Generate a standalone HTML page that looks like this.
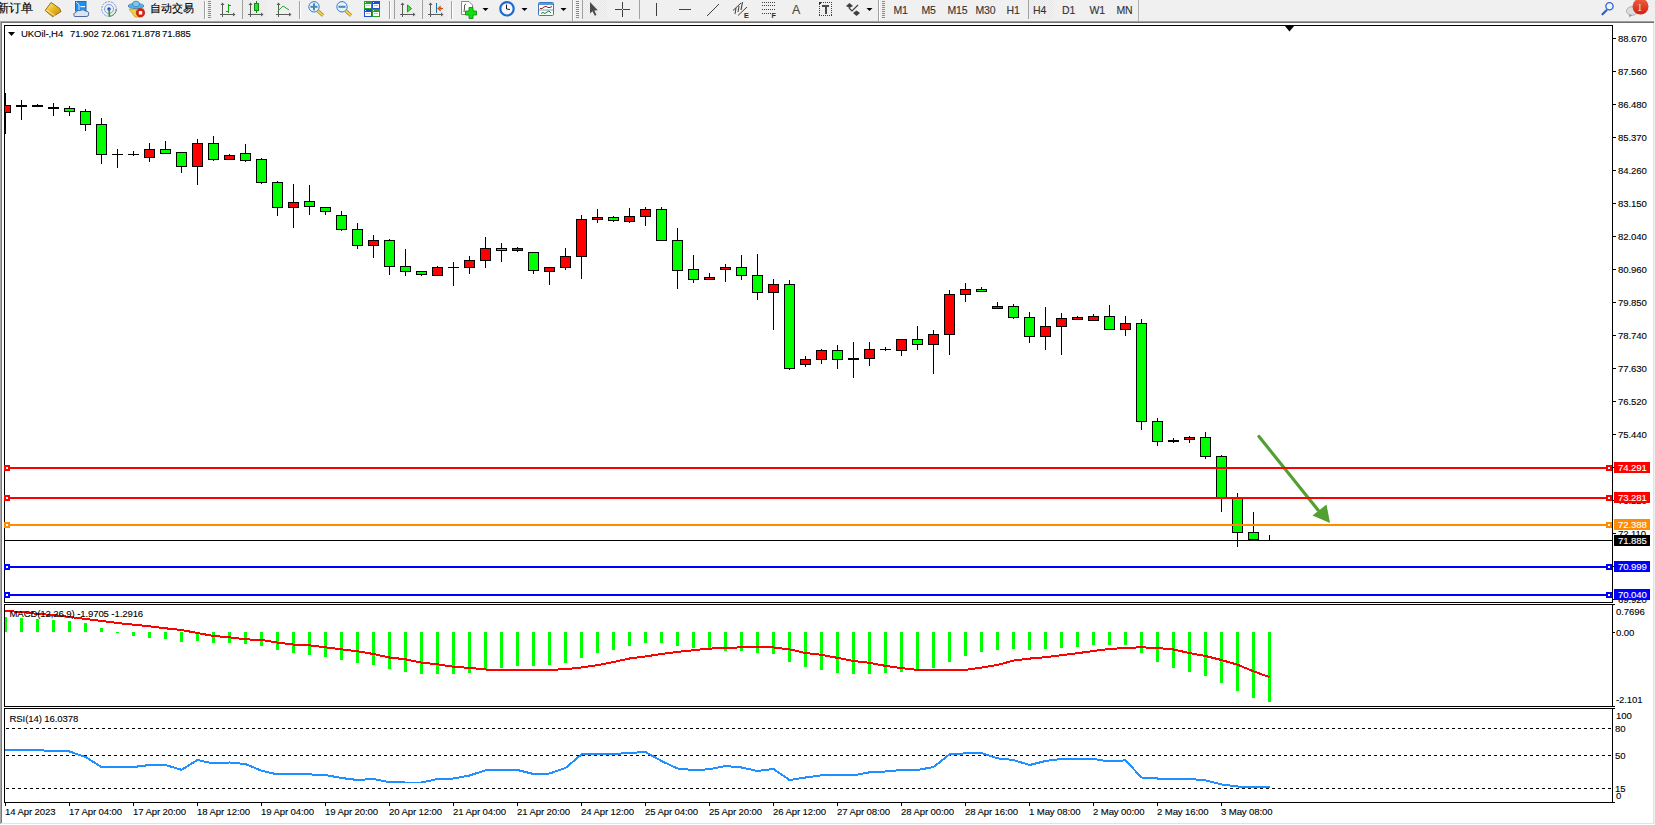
<!DOCTYPE html><html><head><meta charset="utf-8"><style>
html,body{margin:0;padding:0}body{width:1655px;height:825px;overflow:hidden;background:#f0f0f0;position:relative}
svg{position:absolute;left:0;top:0;display:block}
text{font-family:'Liberation Sans',sans-serif;font-size:9.6px;letter-spacing:-0.12px;fill:#000;stroke:#000;stroke-width:0.1px}
</style></head><body>
<svg width="1655" height="825" viewBox="0 0 1655 825" shape-rendering="crispEdges">
<rect x="0" y="0" width="1655" height="825" fill="#f0f0f0"/>
<rect x="2" y="23" width="1651" height="800" fill="#ffffff"/>
<rect x="0" y="21" width="1654" height="1" fill="#a0a0a0"/>
<rect x="0" y="22" width="1654" height="1" fill="#6e6e6e"/>
<rect x="0" y="21" width="1" height="803" fill="#a8a8a8"/>
<rect x="1" y="22" width="1" height="801" fill="#7a7a7a"/>
<rect x="1653" y="23" width="1" height="801" fill="#e3e3e3"/>
<rect x="2" y="823" width="1652" height="1" fill="#e3e3e3"/>
<rect x="0" y="824" width="1655" height="1" fill="#ffffff"/>
<defs>
<clipPath id="cm"><rect x="5" y="26" width="1607" height="576"/></clipPath>
<clipPath id="cd"><rect x="5" y="605" width="1607" height="101"/></clipPath>
<clipPath id="cr"><rect x="5" y="709" width="1607" height="93"/></clipPath>
</defs>
<g clip-path="url(#cm)">
<rect x="5" y="93" width="1" height="41" fill="#000"/>
<rect x="0" y="105" width="11" height="8" fill="#000"/>
<rect x="1" y="106" width="9" height="6" fill="#ff0000"/>
<rect x="21" y="100" width="1" height="20" fill="#000"/>
<rect x="16" y="105" width="11" height="2" fill="#000"/>
<rect x="37" y="104" width="1" height="2" fill="#000"/>
<rect x="32" y="105" width="11" height="2" fill="#000"/>
<rect x="53" y="103" width="1" height="13" fill="#000"/>
<rect x="48" y="107" width="11" height="2" fill="#000"/>
<rect x="69" y="106" width="1" height="10" fill="#000"/>
<rect x="64" y="108" width="11" height="4" fill="#000"/>
<rect x="65" y="109" width="9" height="2" fill="#00ff00"/>
<rect x="85" y="109" width="1" height="22" fill="#000"/>
<rect x="80" y="111" width="11" height="14" fill="#000"/>
<rect x="81" y="112" width="9" height="12" fill="#00ff00"/>
<rect x="101" y="118" width="1" height="46" fill="#000"/>
<rect x="96" y="124" width="11" height="31" fill="#000"/>
<rect x="97" y="125" width="9" height="29" fill="#00ff00"/>
<rect x="117" y="149" width="1" height="19" fill="#000"/>
<rect x="112" y="154" width="11" height="1" fill="#000"/>
<rect x="133" y="151" width="1" height="5" fill="#000"/>
<rect x="128" y="154" width="11" height="1" fill="#000"/>
<rect x="149" y="143" width="1" height="19" fill="#000"/>
<rect x="144" y="149" width="11" height="9" fill="#000"/>
<rect x="145" y="150" width="9" height="7" fill="#ff0000"/>
<rect x="165" y="141" width="1" height="13" fill="#000"/>
<rect x="160" y="149" width="11" height="5" fill="#000"/>
<rect x="161" y="150" width="9" height="3" fill="#00ff00"/>
<rect x="181" y="152" width="1" height="21" fill="#000"/>
<rect x="176" y="152" width="11" height="15" fill="#000"/>
<rect x="177" y="153" width="9" height="13" fill="#00ff00"/>
<rect x="197" y="139" width="1" height="46" fill="#000"/>
<rect x="192" y="143" width="11" height="24" fill="#000"/>
<rect x="193" y="144" width="9" height="22" fill="#ff0000"/>
<rect x="213" y="136" width="1" height="25" fill="#000"/>
<rect x="208" y="143" width="11" height="17" fill="#000"/>
<rect x="209" y="144" width="9" height="15" fill="#00ff00"/>
<rect x="229" y="154" width="1" height="6" fill="#000"/>
<rect x="224" y="155" width="11" height="5" fill="#000"/>
<rect x="225" y="156" width="9" height="3" fill="#ff0000"/>
<rect x="245" y="144" width="1" height="18" fill="#000"/>
<rect x="240" y="153" width="11" height="8" fill="#000"/>
<rect x="241" y="154" width="9" height="6" fill="#00ff00"/>
<rect x="261" y="158" width="1" height="26" fill="#000"/>
<rect x="256" y="159" width="11" height="24" fill="#000"/>
<rect x="257" y="160" width="9" height="22" fill="#00ff00"/>
<rect x="277" y="181" width="1" height="35" fill="#000"/>
<rect x="272" y="182" width="11" height="26" fill="#000"/>
<rect x="273" y="183" width="9" height="24" fill="#00ff00"/>
<rect x="293" y="184" width="1" height="44" fill="#000"/>
<rect x="288" y="202" width="11" height="6" fill="#000"/>
<rect x="289" y="203" width="9" height="4" fill="#ff0000"/>
<rect x="309" y="185" width="1" height="30" fill="#000"/>
<rect x="304" y="201" width="11" height="6" fill="#000"/>
<rect x="305" y="202" width="9" height="4" fill="#00ff00"/>
<rect x="325" y="207" width="1" height="8" fill="#000"/>
<rect x="320" y="207" width="11" height="5" fill="#000"/>
<rect x="321" y="208" width="9" height="3" fill="#00ff00"/>
<rect x="341" y="211" width="1" height="20" fill="#000"/>
<rect x="336" y="215" width="11" height="15" fill="#000"/>
<rect x="337" y="216" width="9" height="13" fill="#00ff00"/>
<rect x="357" y="223" width="1" height="26" fill="#000"/>
<rect x="352" y="229" width="11" height="17" fill="#000"/>
<rect x="353" y="230" width="9" height="15" fill="#00ff00"/>
<rect x="373" y="235" width="1" height="23" fill="#000"/>
<rect x="368" y="240" width="11" height="6" fill="#000"/>
<rect x="369" y="241" width="9" height="4" fill="#ff0000"/>
<rect x="389" y="239" width="1" height="36" fill="#000"/>
<rect x="384" y="240" width="11" height="27" fill="#000"/>
<rect x="385" y="241" width="9" height="25" fill="#00ff00"/>
<rect x="405" y="249" width="1" height="27" fill="#000"/>
<rect x="400" y="266" width="11" height="6" fill="#000"/>
<rect x="401" y="267" width="9" height="4" fill="#00ff00"/>
<rect x="421" y="271" width="1" height="5" fill="#000"/>
<rect x="416" y="271" width="11" height="4" fill="#000"/>
<rect x="417" y="272" width="9" height="2" fill="#00ff00"/>
<rect x="437" y="266" width="1" height="10" fill="#000"/>
<rect x="432" y="267" width="11" height="9" fill="#000"/>
<rect x="433" y="268" width="9" height="7" fill="#ff0000"/>
<rect x="453" y="262" width="1" height="24" fill="#000"/>
<rect x="448" y="267" width="11" height="1" fill="#000"/>
<rect x="469" y="256" width="1" height="18" fill="#000"/>
<rect x="464" y="260" width="11" height="8" fill="#000"/>
<rect x="465" y="261" width="9" height="6" fill="#ff0000"/>
<rect x="485" y="237" width="1" height="31" fill="#000"/>
<rect x="480" y="248" width="11" height="13" fill="#000"/>
<rect x="481" y="249" width="9" height="11" fill="#ff0000"/>
<rect x="501" y="243" width="1" height="19" fill="#000"/>
<rect x="496" y="248" width="11" height="3" fill="#000"/>
<rect x="497" y="249" width="9" height="1" fill="#00ff00"/>
<rect x="517" y="247" width="1" height="5" fill="#000"/>
<rect x="512" y="248" width="11" height="3" fill="#000"/>
<rect x="513" y="249" width="9" height="1" fill="#ff0000"/>
<rect x="533" y="252" width="1" height="22" fill="#000"/>
<rect x="528" y="252" width="11" height="19" fill="#000"/>
<rect x="529" y="253" width="9" height="17" fill="#00ff00"/>
<rect x="549" y="267" width="1" height="18" fill="#000"/>
<rect x="544" y="267" width="11" height="5" fill="#000"/>
<rect x="545" y="268" width="9" height="3" fill="#ff0000"/>
<rect x="565" y="248" width="1" height="22" fill="#000"/>
<rect x="560" y="256" width="11" height="12" fill="#000"/>
<rect x="561" y="257" width="9" height="10" fill="#ff0000"/>
<rect x="581" y="215" width="1" height="64" fill="#000"/>
<rect x="576" y="219" width="11" height="38" fill="#000"/>
<rect x="577" y="220" width="9" height="36" fill="#ff0000"/>
<rect x="597" y="209" width="1" height="14" fill="#000"/>
<rect x="592" y="217" width="11" height="3" fill="#000"/>
<rect x="593" y="218" width="9" height="1" fill="#ff0000"/>
<rect x="613" y="216" width="1" height="6" fill="#000"/>
<rect x="608" y="217" width="11" height="4" fill="#000"/>
<rect x="609" y="218" width="9" height="2" fill="#00ff00"/>
<rect x="629" y="208" width="1" height="15" fill="#000"/>
<rect x="624" y="216" width="11" height="6" fill="#000"/>
<rect x="625" y="217" width="9" height="4" fill="#ff0000"/>
<rect x="645" y="207" width="1" height="19" fill="#000"/>
<rect x="640" y="209" width="11" height="8" fill="#000"/>
<rect x="641" y="210" width="9" height="6" fill="#ff0000"/>
<rect x="661" y="207" width="1" height="34" fill="#000"/>
<rect x="656" y="209" width="11" height="32" fill="#000"/>
<rect x="657" y="210" width="9" height="30" fill="#00ff00"/>
<rect x="677" y="228" width="1" height="61" fill="#000"/>
<rect x="672" y="240" width="11" height="31" fill="#000"/>
<rect x="673" y="241" width="9" height="29" fill="#00ff00"/>
<rect x="693" y="255" width="1" height="28" fill="#000"/>
<rect x="688" y="269" width="11" height="11" fill="#000"/>
<rect x="689" y="270" width="9" height="9" fill="#00ff00"/>
<rect x="709" y="273" width="1" height="7" fill="#000"/>
<rect x="704" y="277" width="11" height="3" fill="#000"/>
<rect x="705" y="278" width="9" height="1" fill="#ff0000"/>
<rect x="725" y="264" width="1" height="18" fill="#000"/>
<rect x="720" y="267" width="11" height="3" fill="#000"/>
<rect x="721" y="268" width="9" height="1" fill="#ff0000"/>
<rect x="741" y="255" width="1" height="25" fill="#000"/>
<rect x="736" y="267" width="11" height="9" fill="#000"/>
<rect x="737" y="268" width="9" height="7" fill="#00ff00"/>
<rect x="757" y="254" width="1" height="46" fill="#000"/>
<rect x="752" y="275" width="11" height="18" fill="#000"/>
<rect x="753" y="276" width="9" height="16" fill="#00ff00"/>
<rect x="773" y="279" width="1" height="51" fill="#000"/>
<rect x="768" y="284" width="11" height="9" fill="#000"/>
<rect x="769" y="285" width="9" height="7" fill="#ff0000"/>
<rect x="789" y="280" width="1" height="90" fill="#000"/>
<rect x="784" y="284" width="11" height="85" fill="#000"/>
<rect x="785" y="285" width="9" height="83" fill="#00ff00"/>
<rect x="805" y="356" width="1" height="11" fill="#000"/>
<rect x="800" y="359" width="11" height="6" fill="#000"/>
<rect x="801" y="360" width="9" height="4" fill="#ff0000"/>
<rect x="821" y="349" width="1" height="15" fill="#000"/>
<rect x="816" y="350" width="11" height="10" fill="#000"/>
<rect x="817" y="351" width="9" height="8" fill="#ff0000"/>
<rect x="837" y="345" width="1" height="24" fill="#000"/>
<rect x="832" y="350" width="11" height="10" fill="#000"/>
<rect x="833" y="351" width="9" height="8" fill="#00ff00"/>
<rect x="853" y="342" width="1" height="36" fill="#000"/>
<rect x="848" y="358" width="11" height="2" fill="#000"/>
<rect x="869" y="342" width="1" height="24" fill="#000"/>
<rect x="864" y="349" width="11" height="10" fill="#000"/>
<rect x="865" y="350" width="9" height="8" fill="#ff0000"/>
<rect x="885" y="347" width="1" height="4" fill="#000"/>
<rect x="880" y="349" width="11" height="1" fill="#000"/>
<rect x="901" y="339" width="1" height="17" fill="#000"/>
<rect x="896" y="339" width="11" height="12" fill="#000"/>
<rect x="897" y="340" width="9" height="10" fill="#ff0000"/>
<rect x="917" y="326" width="1" height="24" fill="#000"/>
<rect x="912" y="339" width="11" height="6" fill="#000"/>
<rect x="913" y="340" width="9" height="4" fill="#00ff00"/>
<rect x="933" y="330" width="1" height="44" fill="#000"/>
<rect x="928" y="334" width="11" height="11" fill="#000"/>
<rect x="929" y="335" width="9" height="9" fill="#ff0000"/>
<rect x="949" y="290" width="1" height="65" fill="#000"/>
<rect x="944" y="294" width="11" height="41" fill="#000"/>
<rect x="945" y="295" width="9" height="39" fill="#ff0000"/>
<rect x="965" y="283" width="1" height="19" fill="#000"/>
<rect x="960" y="289" width="11" height="6" fill="#000"/>
<rect x="961" y="290" width="9" height="4" fill="#ff0000"/>
<rect x="981" y="287" width="1" height="5" fill="#000"/>
<rect x="976" y="289" width="11" height="3" fill="#000"/>
<rect x="977" y="290" width="9" height="1" fill="#00ff00"/>
<rect x="997" y="302" width="1" height="7" fill="#000"/>
<rect x="992" y="306" width="11" height="3" fill="#000"/>
<rect x="993" y="307" width="9" height="1" fill="#ff0000"/>
<rect x="1013" y="304" width="1" height="15" fill="#000"/>
<rect x="1008" y="306" width="11" height="12" fill="#000"/>
<rect x="1009" y="307" width="9" height="10" fill="#00ff00"/>
<rect x="1029" y="312" width="1" height="31" fill="#000"/>
<rect x="1024" y="317" width="11" height="20" fill="#000"/>
<rect x="1025" y="318" width="9" height="18" fill="#00ff00"/>
<rect x="1045" y="307" width="1" height="43" fill="#000"/>
<rect x="1040" y="326" width="11" height="11" fill="#000"/>
<rect x="1041" y="327" width="9" height="9" fill="#ff0000"/>
<rect x="1061" y="313" width="1" height="42" fill="#000"/>
<rect x="1056" y="318" width="11" height="9" fill="#000"/>
<rect x="1057" y="319" width="9" height="7" fill="#ff0000"/>
<rect x="1077" y="316" width="1" height="4" fill="#000"/>
<rect x="1072" y="317" width="11" height="3" fill="#000"/>
<rect x="1073" y="318" width="9" height="1" fill="#ff0000"/>
<rect x="1093" y="314" width="1" height="7" fill="#000"/>
<rect x="1088" y="316" width="11" height="5" fill="#000"/>
<rect x="1089" y="317" width="9" height="3" fill="#ff0000"/>
<rect x="1109" y="305" width="1" height="25" fill="#000"/>
<rect x="1104" y="316" width="11" height="14" fill="#000"/>
<rect x="1105" y="317" width="9" height="12" fill="#00ff00"/>
<rect x="1125" y="316" width="1" height="20" fill="#000"/>
<rect x="1120" y="323" width="11" height="7" fill="#000"/>
<rect x="1121" y="324" width="9" height="5" fill="#ff0000"/>
<rect x="1141" y="319" width="1" height="111" fill="#000"/>
<rect x="1136" y="323" width="11" height="99" fill="#000"/>
<rect x="1137" y="324" width="9" height="97" fill="#00ff00"/>
<rect x="1157" y="418" width="1" height="28" fill="#000"/>
<rect x="1152" y="421" width="11" height="21" fill="#000"/>
<rect x="1153" y="422" width="9" height="19" fill="#00ff00"/>
<rect x="1173" y="438" width="1" height="5" fill="#000"/>
<rect x="1168" y="440" width="11" height="2" fill="#000"/>
<rect x="1189" y="436" width="1" height="7" fill="#000"/>
<rect x="1184" y="437" width="11" height="3" fill="#000"/>
<rect x="1185" y="438" width="9" height="1" fill="#ff0000"/>
<rect x="1205" y="432" width="1" height="27" fill="#000"/>
<rect x="1200" y="437" width="11" height="20" fill="#000"/>
<rect x="1201" y="438" width="9" height="18" fill="#00ff00"/>
<rect x="1221" y="455" width="1" height="57" fill="#000"/>
<rect x="1216" y="456" width="11" height="42" fill="#000"/>
<rect x="1217" y="457" width="9" height="40" fill="#00ff00"/>
<rect x="1237" y="493" width="1" height="54" fill="#000"/>
<rect x="1232" y="498" width="11" height="35" fill="#000"/>
<rect x="1233" y="499" width="9" height="33" fill="#00ff00"/>
<rect x="1253" y="512" width="1" height="28" fill="#000"/>
<rect x="1248" y="532" width="11" height="8" fill="#000"/>
<rect x="1249" y="533" width="9" height="6" fill="#00ff00"/>
<rect x="1269" y="535" width="1" height="5" fill="#000"/>
</g>
<g shape-rendering="geometricPrecision">
<line x1="1259" y1="436.5" x2="1318" y2="510" stroke="#52a030" stroke-width="3.2" stroke-linecap="round"/>
<polygon points="1330,523 1312.5,515.5 1326.5,504.5" fill="#52a030"/>
</g>
<polygon points="1284.5,25.5 1294.5,25.5 1289.5,31.5" fill="#000" shape-rendering="geometricPrecision"/>
<rect x="4" y="25" width="1609" height="1" fill="#000"/>
<rect x="4" y="602" width="1609" height="1" fill="#000"/>
<rect x="4" y="25" width="1" height="578" fill="#000"/>
<rect x="1612" y="25" width="1" height="578" fill="#000"/>
<rect x="5" y="467" width="1607" height="2" fill="#ff0000"/>
<rect x="4" y="465" width="6" height="6" fill="#ff0000"/>
<rect x="6" y="467" width="2" height="2" fill="#ffffff"/>
<rect x="1606" y="465" width="6" height="6" fill="#ff0000"/>
<rect x="1608" y="467" width="2" height="2" fill="#ffffff"/>
<rect x="5" y="497" width="1607" height="2" fill="#ff0000"/>
<rect x="4" y="495" width="6" height="6" fill="#ff0000"/>
<rect x="6" y="497" width="2" height="2" fill="#ffffff"/>
<rect x="1606" y="495" width="6" height="6" fill="#ff0000"/>
<rect x="1608" y="497" width="2" height="2" fill="#ffffff"/>
<rect x="5" y="524" width="1607" height="2" fill="#ff8c00"/>
<rect x="4" y="522" width="6" height="6" fill="#ff8c00"/>
<rect x="6" y="524" width="2" height="2" fill="#ffffff"/>
<rect x="1606" y="522" width="6" height="6" fill="#ff8c00"/>
<rect x="1608" y="524" width="2" height="2" fill="#ffffff"/>
<rect x="5" y="540" width="1607" height="1" fill="#000000"/>
<rect x="5" y="566" width="1607" height="2" fill="#0000ff"/>
<rect x="4" y="564" width="6" height="6" fill="#0000ff"/>
<rect x="6" y="566" width="2" height="2" fill="#ffffff"/>
<rect x="1606" y="564" width="6" height="6" fill="#0000ff"/>
<rect x="1608" y="566" width="2" height="2" fill="#ffffff"/>
<rect x="5" y="594" width="1607" height="2" fill="#0000ff"/>
<rect x="4" y="592" width="6" height="6" fill="#0000ff"/>
<rect x="6" y="594" width="2" height="2" fill="#ffffff"/>
<rect x="1606" y="592" width="6" height="6" fill="#0000ff"/>
<rect x="1608" y="594" width="2" height="2" fill="#ffffff"/>
<polygon points="8,32 15,32 11.5,36" fill="#000" shape-rendering="geometricPrecision"/>
<text x="21" y="37">UKOil-,H4</text><text x="70" y="37">71.902</text><text x="101" y="37">72.061</text><text x="131.5" y="37">71.878</text><text x="162" y="37">71.885</text>
<rect x="1613" y="38" width="3" height="1" fill="#000"/>
<text x="1618" y="42">88.670</text>
<rect x="1613" y="71" width="3" height="1" fill="#000"/>
<text x="1618" y="75">87.560</text>
<rect x="1613" y="104" width="3" height="1" fill="#000"/>
<text x="1618" y="108">86.480</text>
<rect x="1613" y="137" width="3" height="1" fill="#000"/>
<text x="1618" y="141">85.370</text>
<rect x="1613" y="170" width="3" height="1" fill="#000"/>
<text x="1618" y="174">84.260</text>
<rect x="1613" y="203" width="3" height="1" fill="#000"/>
<text x="1618" y="207">83.150</text>
<rect x="1613" y="236" width="3" height="1" fill="#000"/>
<text x="1618" y="240">82.040</text>
<rect x="1613" y="269" width="3" height="1" fill="#000"/>
<text x="1618" y="273">80.960</text>
<rect x="1613" y="302" width="3" height="1" fill="#000"/>
<text x="1618" y="306">79.850</text>
<rect x="1613" y="335" width="3" height="1" fill="#000"/>
<text x="1618" y="339">78.740</text>
<rect x="1613" y="368" width="3" height="1" fill="#000"/>
<text x="1618" y="372">77.630</text>
<rect x="1613" y="401" width="3" height="1" fill="#000"/>
<text x="1618" y="405">76.520</text>
<rect x="1613" y="434" width="3" height="1" fill="#000"/>
<text x="1618" y="438">75.440</text>
<rect x="1613" y="467" width="3" height="1" fill="#000"/>
<text x="1618" y="471">74.330</text>
<rect x="1613" y="500" width="3" height="1" fill="#000"/>
<text x="1618" y="504">73.220</text>
<rect x="1613" y="533" width="3" height="1" fill="#000"/>
<text x="1618" y="537">72.110</text>
<rect x="1613" y="566" width="3" height="1" fill="#000"/>
<text x="1618" y="570">71.000</text>
<rect x="1613" y="599" width="3" height="1" fill="#000"/>
<text x="1618" y="603">69.920</text>
<rect x="1614" y="462" width="36" height="11" fill="#ff0000"/>
<text x="1618" y="471" style="fill:#fff;stroke:#fff">74.291</text>
<rect x="1614" y="492" width="36" height="11" fill="#ff0000"/>
<text x="1618" y="501" style="fill:#fff;stroke:#fff">73.281</text>
<rect x="1614" y="519" width="36" height="11" fill="#ff8c00"/>
<text x="1618" y="528" style="fill:#fff;stroke:#fff">72.388</text>
<rect x="1614" y="535" width="36" height="11" fill="#000000"/>
<text x="1618" y="544" style="fill:#fff;stroke:#fff">71.885</text>
<rect x="1614" y="561" width="36" height="11" fill="#0000ff"/>
<text x="1618" y="570" style="fill:#fff;stroke:#fff">70.999</text>
<rect x="1614" y="589" width="36" height="11" fill="#0000ff"/>
<text x="1618" y="598" style="fill:#fff;stroke:#fff">70.040</text>
<rect x="4" y="604" width="1609" height="1" fill="#000"/>
<rect x="4" y="706" width="1609" height="1" fill="#000"/>
<rect x="4" y="604" width="1" height="103" fill="#000"/>
<rect x="1612" y="604" width="1" height="103" fill="#000"/>
<g clip-path="url(#cd)">
<rect x="4" y="617" width="3" height="15" fill="#00ff00"/>
<rect x="20" y="618" width="3" height="14" fill="#00ff00"/>
<rect x="36" y="619" width="3" height="13" fill="#00ff00"/>
<rect x="52" y="620" width="3" height="12" fill="#00ff00"/>
<rect x="68" y="621" width="3" height="11" fill="#00ff00"/>
<rect x="84" y="623" width="3" height="9" fill="#00ff00"/>
<rect x="100" y="628" width="3" height="4" fill="#00ff00"/>
<rect x="116" y="632" width="3" height="1" fill="#00ff00"/>
<rect x="132" y="632" width="3" height="4" fill="#00ff00"/>
<rect x="148" y="632" width="3" height="6" fill="#00ff00"/>
<rect x="164" y="632" width="3" height="7" fill="#00ff00"/>
<rect x="180" y="632" width="3" height="10" fill="#00ff00"/>
<rect x="196" y="632" width="3" height="9" fill="#00ff00"/>
<rect x="212" y="632" width="3" height="11" fill="#00ff00"/>
<rect x="228" y="632" width="3" height="11" fill="#00ff00"/>
<rect x="244" y="632" width="3" height="12" fill="#00ff00"/>
<rect x="260" y="632" width="3" height="14" fill="#00ff00"/>
<rect x="276" y="632" width="3" height="18" fill="#00ff00"/>
<rect x="292" y="632" width="3" height="21" fill="#00ff00"/>
<rect x="308" y="632" width="3" height="23" fill="#00ff00"/>
<rect x="324" y="632" width="3" height="25" fill="#00ff00"/>
<rect x="340" y="632" width="3" height="28" fill="#00ff00"/>
<rect x="356" y="632" width="3" height="31" fill="#00ff00"/>
<rect x="372" y="632" width="3" height="33" fill="#00ff00"/>
<rect x="388" y="632" width="3" height="37" fill="#00ff00"/>
<rect x="404" y="632" width="3" height="40" fill="#00ff00"/>
<rect x="420" y="632" width="3" height="42" fill="#00ff00"/>
<rect x="436" y="632" width="3" height="42" fill="#00ff00"/>
<rect x="452" y="632" width="3" height="42" fill="#00ff00"/>
<rect x="468" y="632" width="3" height="41" fill="#00ff00"/>
<rect x="484" y="632" width="3" height="38" fill="#00ff00"/>
<rect x="500" y="632" width="3" height="36" fill="#00ff00"/>
<rect x="516" y="632" width="3" height="34" fill="#00ff00"/>
<rect x="532" y="632" width="3" height="34" fill="#00ff00"/>
<rect x="548" y="632" width="3" height="33" fill="#00ff00"/>
<rect x="564" y="632" width="3" height="31" fill="#00ff00"/>
<rect x="580" y="632" width="3" height="26" fill="#00ff00"/>
<rect x="596" y="632" width="3" height="21" fill="#00ff00"/>
<rect x="612" y="632" width="3" height="18" fill="#00ff00"/>
<rect x="628" y="632" width="3" height="14" fill="#00ff00"/>
<rect x="644" y="632" width="3" height="11" fill="#00ff00"/>
<rect x="660" y="632" width="3" height="11" fill="#00ff00"/>
<rect x="676" y="632" width="3" height="14" fill="#00ff00"/>
<rect x="692" y="632" width="3" height="16" fill="#00ff00"/>
<rect x="708" y="632" width="3" height="18" fill="#00ff00"/>
<rect x="724" y="632" width="3" height="19" fill="#00ff00"/>
<rect x="740" y="632" width="3" height="19" fill="#00ff00"/>
<rect x="756" y="632" width="3" height="21" fill="#00ff00"/>
<rect x="772" y="632" width="3" height="22" fill="#00ff00"/>
<rect x="788" y="632" width="3" height="30" fill="#00ff00"/>
<rect x="804" y="632" width="3" height="35" fill="#00ff00"/>
<rect x="820" y="632" width="3" height="38" fill="#00ff00"/>
<rect x="836" y="632" width="3" height="41" fill="#00ff00"/>
<rect x="852" y="632" width="3" height="42" fill="#00ff00"/>
<rect x="868" y="632" width="3" height="42" fill="#00ff00"/>
<rect x="884" y="632" width="3" height="41" fill="#00ff00"/>
<rect x="900" y="632" width="3" height="40" fill="#00ff00"/>
<rect x="916" y="632" width="3" height="37" fill="#00ff00"/>
<rect x="932" y="632" width="3" height="36" fill="#00ff00"/>
<rect x="948" y="632" width="3" height="30" fill="#00ff00"/>
<rect x="964" y="632" width="3" height="24" fill="#00ff00"/>
<rect x="980" y="632" width="3" height="20" fill="#00ff00"/>
<rect x="996" y="632" width="3" height="18" fill="#00ff00"/>
<rect x="1012" y="632" width="3" height="17" fill="#00ff00"/>
<rect x="1028" y="632" width="3" height="18" fill="#00ff00"/>
<rect x="1044" y="632" width="3" height="17" fill="#00ff00"/>
<rect x="1060" y="632" width="3" height="16" fill="#00ff00"/>
<rect x="1076" y="632" width="3" height="15" fill="#00ff00"/>
<rect x="1092" y="632" width="3" height="13" fill="#00ff00"/>
<rect x="1108" y="632" width="3" height="13" fill="#00ff00"/>
<rect x="1124" y="632" width="3" height="13" fill="#00ff00"/>
<rect x="1140" y="632" width="3" height="21" fill="#00ff00"/>
<rect x="1156" y="632" width="3" height="30" fill="#00ff00"/>
<rect x="1172" y="632" width="3" height="36" fill="#00ff00"/>
<rect x="1188" y="632" width="3" height="40" fill="#00ff00"/>
<rect x="1204" y="632" width="3" height="44" fill="#00ff00"/>
<rect x="1220" y="632" width="3" height="51" fill="#00ff00"/>
<rect x="1236" y="632" width="3" height="59" fill="#00ff00"/>
<rect x="1252" y="632" width="3" height="66" fill="#00ff00"/>
<rect x="1268" y="632" width="3" height="70" fill="#00ff00"/>
<polyline points="5,611 5.5,611 21.5,612 37.5,614 53.5,615 69.5,617 85.5,619 101.5,621 117.5,623 133.5,624.7 149.5,626.3 165.5,628.3 181.5,630 197.5,633 213.5,636 229.5,637.3 245.5,639.3 261.5,640 277.5,642.6 293.5,644.6 309.5,645.3 325.5,647.3 341.5,649.3 357.5,651.3 373.5,654 389.5,657.5 405.5,659.3 421.5,662.6 437.5,664.3 453.5,666.8 469.5,667.9 485.5,669.5 501.5,669.9 517.5,669.9 533.5,669.9 549.5,669.9 565.5,669.2 581.5,667.5 597.5,665.2 613.5,662 629.5,658.5 645.5,656.4 661.5,654 677.5,651.9 693.5,650.2 709.5,648.6 725.5,648 741.5,647.3 757.5,647.1 773.5,647.5 789.5,649.3 805.5,653 821.5,654.8 837.5,657.9 853.5,661 869.5,662.8 885.5,665.9 901.5,668.1 917.5,669.9 933.5,669.9 949.5,669.9 965.5,669.9 981.5,667.6 997.5,665 1013.5,660.6 1029.5,658.6 1045.5,657.2 1061.5,655.2 1077.5,653.2 1093.5,651 1109.5,649 1125.5,647.9 1141.5,647.3 1157.5,648 1173.5,649.5 1189.5,653.1 1205.5,656 1221.5,660 1237.5,664.7 1253.5,671.3 1269.5,677.1" fill="none" stroke="#ff0000" stroke-width="2"/>
</g>
<text x="9.5" y="617">MACD(12,26,9) -1.9705 -1.2916</text>
<text x="1616" y="615">0.7696</text>
<rect x="1613" y="632" width="2" height="1" fill="#000"/>
<text x="1616" y="636">0.00</text>
<text x="1616" y="703">-2.101</text>
<rect x="1613" y="604" width="2" height="1" fill="#000"/>
<rect x="1613" y="706" width="2" height="1" fill="#000"/>
<rect x="1613" y="708" width="2" height="1" fill="#000"/>
<rect x="1613" y="802" width="2" height="1" fill="#000"/>
<rect x="4" y="708" width="1609" height="1" fill="#000"/>
<rect x="4" y="802" width="1609" height="1" fill="#000"/>
<rect x="4" y="708" width="1" height="95" fill="#000"/>
<rect x="1612" y="708" width="1" height="95" fill="#000"/>
<g clip-path="url(#cr)">
<rect x="6" y="728" width="3" height="1" fill="#000"/>
<rect x="12" y="728" width="3" height="1" fill="#000"/>
<rect x="18" y="728" width="3" height="1" fill="#000"/>
<rect x="24" y="728" width="3" height="1" fill="#000"/>
<rect x="30" y="728" width="3" height="1" fill="#000"/>
<rect x="36" y="728" width="3" height="1" fill="#000"/>
<rect x="42" y="728" width="3" height="1" fill="#000"/>
<rect x="48" y="728" width="3" height="1" fill="#000"/>
<rect x="54" y="728" width="3" height="1" fill="#000"/>
<rect x="60" y="728" width="3" height="1" fill="#000"/>
<rect x="66" y="728" width="3" height="1" fill="#000"/>
<rect x="72" y="728" width="3" height="1" fill="#000"/>
<rect x="78" y="728" width="3" height="1" fill="#000"/>
<rect x="84" y="728" width="3" height="1" fill="#000"/>
<rect x="90" y="728" width="3" height="1" fill="#000"/>
<rect x="96" y="728" width="3" height="1" fill="#000"/>
<rect x="102" y="728" width="3" height="1" fill="#000"/>
<rect x="108" y="728" width="3" height="1" fill="#000"/>
<rect x="114" y="728" width="3" height="1" fill="#000"/>
<rect x="120" y="728" width="3" height="1" fill="#000"/>
<rect x="126" y="728" width="3" height="1" fill="#000"/>
<rect x="132" y="728" width="3" height="1" fill="#000"/>
<rect x="138" y="728" width="3" height="1" fill="#000"/>
<rect x="144" y="728" width="3" height="1" fill="#000"/>
<rect x="150" y="728" width="3" height="1" fill="#000"/>
<rect x="156" y="728" width="3" height="1" fill="#000"/>
<rect x="162" y="728" width="3" height="1" fill="#000"/>
<rect x="168" y="728" width="3" height="1" fill="#000"/>
<rect x="174" y="728" width="3" height="1" fill="#000"/>
<rect x="180" y="728" width="3" height="1" fill="#000"/>
<rect x="186" y="728" width="3" height="1" fill="#000"/>
<rect x="192" y="728" width="3" height="1" fill="#000"/>
<rect x="198" y="728" width="3" height="1" fill="#000"/>
<rect x="204" y="728" width="3" height="1" fill="#000"/>
<rect x="210" y="728" width="3" height="1" fill="#000"/>
<rect x="216" y="728" width="3" height="1" fill="#000"/>
<rect x="222" y="728" width="3" height="1" fill="#000"/>
<rect x="228" y="728" width="3" height="1" fill="#000"/>
<rect x="234" y="728" width="3" height="1" fill="#000"/>
<rect x="240" y="728" width="3" height="1" fill="#000"/>
<rect x="246" y="728" width="3" height="1" fill="#000"/>
<rect x="252" y="728" width="3" height="1" fill="#000"/>
<rect x="258" y="728" width="3" height="1" fill="#000"/>
<rect x="264" y="728" width="3" height="1" fill="#000"/>
<rect x="270" y="728" width="3" height="1" fill="#000"/>
<rect x="276" y="728" width="3" height="1" fill="#000"/>
<rect x="282" y="728" width="3" height="1" fill="#000"/>
<rect x="288" y="728" width="3" height="1" fill="#000"/>
<rect x="294" y="728" width="3" height="1" fill="#000"/>
<rect x="300" y="728" width="3" height="1" fill="#000"/>
<rect x="306" y="728" width="3" height="1" fill="#000"/>
<rect x="312" y="728" width="3" height="1" fill="#000"/>
<rect x="318" y="728" width="3" height="1" fill="#000"/>
<rect x="324" y="728" width="3" height="1" fill="#000"/>
<rect x="330" y="728" width="3" height="1" fill="#000"/>
<rect x="336" y="728" width="3" height="1" fill="#000"/>
<rect x="342" y="728" width="3" height="1" fill="#000"/>
<rect x="348" y="728" width="3" height="1" fill="#000"/>
<rect x="354" y="728" width="3" height="1" fill="#000"/>
<rect x="360" y="728" width="3" height="1" fill="#000"/>
<rect x="366" y="728" width="3" height="1" fill="#000"/>
<rect x="372" y="728" width="3" height="1" fill="#000"/>
<rect x="378" y="728" width="3" height="1" fill="#000"/>
<rect x="384" y="728" width="3" height="1" fill="#000"/>
<rect x="390" y="728" width="3" height="1" fill="#000"/>
<rect x="396" y="728" width="3" height="1" fill="#000"/>
<rect x="402" y="728" width="3" height="1" fill="#000"/>
<rect x="408" y="728" width="3" height="1" fill="#000"/>
<rect x="414" y="728" width="3" height="1" fill="#000"/>
<rect x="420" y="728" width="3" height="1" fill="#000"/>
<rect x="426" y="728" width="3" height="1" fill="#000"/>
<rect x="432" y="728" width="3" height="1" fill="#000"/>
<rect x="438" y="728" width="3" height="1" fill="#000"/>
<rect x="444" y="728" width="3" height="1" fill="#000"/>
<rect x="450" y="728" width="3" height="1" fill="#000"/>
<rect x="456" y="728" width="3" height="1" fill="#000"/>
<rect x="462" y="728" width="3" height="1" fill="#000"/>
<rect x="468" y="728" width="3" height="1" fill="#000"/>
<rect x="474" y="728" width="3" height="1" fill="#000"/>
<rect x="480" y="728" width="3" height="1" fill="#000"/>
<rect x="486" y="728" width="3" height="1" fill="#000"/>
<rect x="492" y="728" width="3" height="1" fill="#000"/>
<rect x="498" y="728" width="3" height="1" fill="#000"/>
<rect x="504" y="728" width="3" height="1" fill="#000"/>
<rect x="510" y="728" width="3" height="1" fill="#000"/>
<rect x="516" y="728" width="3" height="1" fill="#000"/>
<rect x="522" y="728" width="3" height="1" fill="#000"/>
<rect x="528" y="728" width="3" height="1" fill="#000"/>
<rect x="534" y="728" width="3" height="1" fill="#000"/>
<rect x="540" y="728" width="3" height="1" fill="#000"/>
<rect x="546" y="728" width="3" height="1" fill="#000"/>
<rect x="552" y="728" width="3" height="1" fill="#000"/>
<rect x="558" y="728" width="3" height="1" fill="#000"/>
<rect x="564" y="728" width="3" height="1" fill="#000"/>
<rect x="570" y="728" width="3" height="1" fill="#000"/>
<rect x="576" y="728" width="3" height="1" fill="#000"/>
<rect x="582" y="728" width="3" height="1" fill="#000"/>
<rect x="588" y="728" width="3" height="1" fill="#000"/>
<rect x="594" y="728" width="3" height="1" fill="#000"/>
<rect x="600" y="728" width="3" height="1" fill="#000"/>
<rect x="606" y="728" width="3" height="1" fill="#000"/>
<rect x="612" y="728" width="3" height="1" fill="#000"/>
<rect x="618" y="728" width="3" height="1" fill="#000"/>
<rect x="624" y="728" width="3" height="1" fill="#000"/>
<rect x="630" y="728" width="3" height="1" fill="#000"/>
<rect x="636" y="728" width="3" height="1" fill="#000"/>
<rect x="642" y="728" width="3" height="1" fill="#000"/>
<rect x="648" y="728" width="3" height="1" fill="#000"/>
<rect x="654" y="728" width="3" height="1" fill="#000"/>
<rect x="660" y="728" width="3" height="1" fill="#000"/>
<rect x="666" y="728" width="3" height="1" fill="#000"/>
<rect x="672" y="728" width="3" height="1" fill="#000"/>
<rect x="678" y="728" width="3" height="1" fill="#000"/>
<rect x="684" y="728" width="3" height="1" fill="#000"/>
<rect x="690" y="728" width="3" height="1" fill="#000"/>
<rect x="696" y="728" width="3" height="1" fill="#000"/>
<rect x="702" y="728" width="3" height="1" fill="#000"/>
<rect x="708" y="728" width="3" height="1" fill="#000"/>
<rect x="714" y="728" width="3" height="1" fill="#000"/>
<rect x="720" y="728" width="3" height="1" fill="#000"/>
<rect x="726" y="728" width="3" height="1" fill="#000"/>
<rect x="732" y="728" width="3" height="1" fill="#000"/>
<rect x="738" y="728" width="3" height="1" fill="#000"/>
<rect x="744" y="728" width="3" height="1" fill="#000"/>
<rect x="750" y="728" width="3" height="1" fill="#000"/>
<rect x="756" y="728" width="3" height="1" fill="#000"/>
<rect x="762" y="728" width="3" height="1" fill="#000"/>
<rect x="768" y="728" width="3" height="1" fill="#000"/>
<rect x="774" y="728" width="3" height="1" fill="#000"/>
<rect x="780" y="728" width="3" height="1" fill="#000"/>
<rect x="786" y="728" width="3" height="1" fill="#000"/>
<rect x="792" y="728" width="3" height="1" fill="#000"/>
<rect x="798" y="728" width="3" height="1" fill="#000"/>
<rect x="804" y="728" width="3" height="1" fill="#000"/>
<rect x="810" y="728" width="3" height="1" fill="#000"/>
<rect x="816" y="728" width="3" height="1" fill="#000"/>
<rect x="822" y="728" width="3" height="1" fill="#000"/>
<rect x="828" y="728" width="3" height="1" fill="#000"/>
<rect x="834" y="728" width="3" height="1" fill="#000"/>
<rect x="840" y="728" width="3" height="1" fill="#000"/>
<rect x="846" y="728" width="3" height="1" fill="#000"/>
<rect x="852" y="728" width="3" height="1" fill="#000"/>
<rect x="858" y="728" width="3" height="1" fill="#000"/>
<rect x="864" y="728" width="3" height="1" fill="#000"/>
<rect x="870" y="728" width="3" height="1" fill="#000"/>
<rect x="876" y="728" width="3" height="1" fill="#000"/>
<rect x="882" y="728" width="3" height="1" fill="#000"/>
<rect x="888" y="728" width="3" height="1" fill="#000"/>
<rect x="894" y="728" width="3" height="1" fill="#000"/>
<rect x="900" y="728" width="3" height="1" fill="#000"/>
<rect x="906" y="728" width="3" height="1" fill="#000"/>
<rect x="912" y="728" width="3" height="1" fill="#000"/>
<rect x="918" y="728" width="3" height="1" fill="#000"/>
<rect x="924" y="728" width="3" height="1" fill="#000"/>
<rect x="930" y="728" width="3" height="1" fill="#000"/>
<rect x="936" y="728" width="3" height="1" fill="#000"/>
<rect x="942" y="728" width="3" height="1" fill="#000"/>
<rect x="948" y="728" width="3" height="1" fill="#000"/>
<rect x="954" y="728" width="3" height="1" fill="#000"/>
<rect x="960" y="728" width="3" height="1" fill="#000"/>
<rect x="966" y="728" width="3" height="1" fill="#000"/>
<rect x="972" y="728" width="3" height="1" fill="#000"/>
<rect x="978" y="728" width="3" height="1" fill="#000"/>
<rect x="984" y="728" width="3" height="1" fill="#000"/>
<rect x="990" y="728" width="3" height="1" fill="#000"/>
<rect x="996" y="728" width="3" height="1" fill="#000"/>
<rect x="1002" y="728" width="3" height="1" fill="#000"/>
<rect x="1008" y="728" width="3" height="1" fill="#000"/>
<rect x="1014" y="728" width="3" height="1" fill="#000"/>
<rect x="1020" y="728" width="3" height="1" fill="#000"/>
<rect x="1026" y="728" width="3" height="1" fill="#000"/>
<rect x="1032" y="728" width="3" height="1" fill="#000"/>
<rect x="1038" y="728" width="3" height="1" fill="#000"/>
<rect x="1044" y="728" width="3" height="1" fill="#000"/>
<rect x="1050" y="728" width="3" height="1" fill="#000"/>
<rect x="1056" y="728" width="3" height="1" fill="#000"/>
<rect x="1062" y="728" width="3" height="1" fill="#000"/>
<rect x="1068" y="728" width="3" height="1" fill="#000"/>
<rect x="1074" y="728" width="3" height="1" fill="#000"/>
<rect x="1080" y="728" width="3" height="1" fill="#000"/>
<rect x="1086" y="728" width="3" height="1" fill="#000"/>
<rect x="1092" y="728" width="3" height="1" fill="#000"/>
<rect x="1098" y="728" width="3" height="1" fill="#000"/>
<rect x="1104" y="728" width="3" height="1" fill="#000"/>
<rect x="1110" y="728" width="3" height="1" fill="#000"/>
<rect x="1116" y="728" width="3" height="1" fill="#000"/>
<rect x="1122" y="728" width="3" height="1" fill="#000"/>
<rect x="1128" y="728" width="3" height="1" fill="#000"/>
<rect x="1134" y="728" width="3" height="1" fill="#000"/>
<rect x="1140" y="728" width="3" height="1" fill="#000"/>
<rect x="1146" y="728" width="3" height="1" fill="#000"/>
<rect x="1152" y="728" width="3" height="1" fill="#000"/>
<rect x="1158" y="728" width="3" height="1" fill="#000"/>
<rect x="1164" y="728" width="3" height="1" fill="#000"/>
<rect x="1170" y="728" width="3" height="1" fill="#000"/>
<rect x="1176" y="728" width="3" height="1" fill="#000"/>
<rect x="1182" y="728" width="3" height="1" fill="#000"/>
<rect x="1188" y="728" width="3" height="1" fill="#000"/>
<rect x="1194" y="728" width="3" height="1" fill="#000"/>
<rect x="1200" y="728" width="3" height="1" fill="#000"/>
<rect x="1206" y="728" width="3" height="1" fill="#000"/>
<rect x="1212" y="728" width="3" height="1" fill="#000"/>
<rect x="1218" y="728" width="3" height="1" fill="#000"/>
<rect x="1224" y="728" width="3" height="1" fill="#000"/>
<rect x="1230" y="728" width="3" height="1" fill="#000"/>
<rect x="1236" y="728" width="3" height="1" fill="#000"/>
<rect x="1242" y="728" width="3" height="1" fill="#000"/>
<rect x="1248" y="728" width="3" height="1" fill="#000"/>
<rect x="1254" y="728" width="3" height="1" fill="#000"/>
<rect x="1260" y="728" width="3" height="1" fill="#000"/>
<rect x="1266" y="728" width="3" height="1" fill="#000"/>
<rect x="1272" y="728" width="3" height="1" fill="#000"/>
<rect x="1278" y="728" width="3" height="1" fill="#000"/>
<rect x="1284" y="728" width="3" height="1" fill="#000"/>
<rect x="1290" y="728" width="3" height="1" fill="#000"/>
<rect x="1296" y="728" width="3" height="1" fill="#000"/>
<rect x="1302" y="728" width="3" height="1" fill="#000"/>
<rect x="1308" y="728" width="3" height="1" fill="#000"/>
<rect x="1314" y="728" width="3" height="1" fill="#000"/>
<rect x="1320" y="728" width="3" height="1" fill="#000"/>
<rect x="1326" y="728" width="3" height="1" fill="#000"/>
<rect x="1332" y="728" width="3" height="1" fill="#000"/>
<rect x="1338" y="728" width="3" height="1" fill="#000"/>
<rect x="1344" y="728" width="3" height="1" fill="#000"/>
<rect x="1350" y="728" width="3" height="1" fill="#000"/>
<rect x="1356" y="728" width="3" height="1" fill="#000"/>
<rect x="1362" y="728" width="3" height="1" fill="#000"/>
<rect x="1368" y="728" width="3" height="1" fill="#000"/>
<rect x="1374" y="728" width="3" height="1" fill="#000"/>
<rect x="1380" y="728" width="3" height="1" fill="#000"/>
<rect x="1386" y="728" width="3" height="1" fill="#000"/>
<rect x="1392" y="728" width="3" height="1" fill="#000"/>
<rect x="1398" y="728" width="3" height="1" fill="#000"/>
<rect x="1404" y="728" width="3" height="1" fill="#000"/>
<rect x="1410" y="728" width="3" height="1" fill="#000"/>
<rect x="1416" y="728" width="3" height="1" fill="#000"/>
<rect x="1422" y="728" width="3" height="1" fill="#000"/>
<rect x="1428" y="728" width="3" height="1" fill="#000"/>
<rect x="1434" y="728" width="3" height="1" fill="#000"/>
<rect x="1440" y="728" width="3" height="1" fill="#000"/>
<rect x="1446" y="728" width="3" height="1" fill="#000"/>
<rect x="1452" y="728" width="3" height="1" fill="#000"/>
<rect x="1458" y="728" width="3" height="1" fill="#000"/>
<rect x="1464" y="728" width="3" height="1" fill="#000"/>
<rect x="1470" y="728" width="3" height="1" fill="#000"/>
<rect x="1476" y="728" width="3" height="1" fill="#000"/>
<rect x="1482" y="728" width="3" height="1" fill="#000"/>
<rect x="1488" y="728" width="3" height="1" fill="#000"/>
<rect x="1494" y="728" width="3" height="1" fill="#000"/>
<rect x="1500" y="728" width="3" height="1" fill="#000"/>
<rect x="1506" y="728" width="3" height="1" fill="#000"/>
<rect x="1512" y="728" width="3" height="1" fill="#000"/>
<rect x="1518" y="728" width="3" height="1" fill="#000"/>
<rect x="1524" y="728" width="3" height="1" fill="#000"/>
<rect x="1530" y="728" width="3" height="1" fill="#000"/>
<rect x="1536" y="728" width="3" height="1" fill="#000"/>
<rect x="1542" y="728" width="3" height="1" fill="#000"/>
<rect x="1548" y="728" width="3" height="1" fill="#000"/>
<rect x="1554" y="728" width="3" height="1" fill="#000"/>
<rect x="1560" y="728" width="3" height="1" fill="#000"/>
<rect x="1566" y="728" width="3" height="1" fill="#000"/>
<rect x="1572" y="728" width="3" height="1" fill="#000"/>
<rect x="1578" y="728" width="3" height="1" fill="#000"/>
<rect x="1584" y="728" width="3" height="1" fill="#000"/>
<rect x="1590" y="728" width="3" height="1" fill="#000"/>
<rect x="1596" y="728" width="3" height="1" fill="#000"/>
<rect x="1602" y="728" width="3" height="1" fill="#000"/>
<rect x="1608" y="728" width="3" height="1" fill="#000"/>
<rect x="6" y="755" width="3" height="1" fill="#000"/>
<rect x="12" y="755" width="3" height="1" fill="#000"/>
<rect x="18" y="755" width="3" height="1" fill="#000"/>
<rect x="24" y="755" width="3" height="1" fill="#000"/>
<rect x="30" y="755" width="3" height="1" fill="#000"/>
<rect x="36" y="755" width="3" height="1" fill="#000"/>
<rect x="42" y="755" width="3" height="1" fill="#000"/>
<rect x="48" y="755" width="3" height="1" fill="#000"/>
<rect x="54" y="755" width="3" height="1" fill="#000"/>
<rect x="60" y="755" width="3" height="1" fill="#000"/>
<rect x="66" y="755" width="3" height="1" fill="#000"/>
<rect x="72" y="755" width="3" height="1" fill="#000"/>
<rect x="78" y="755" width="3" height="1" fill="#000"/>
<rect x="84" y="755" width="3" height="1" fill="#000"/>
<rect x="90" y="755" width="3" height="1" fill="#000"/>
<rect x="96" y="755" width="3" height="1" fill="#000"/>
<rect x="102" y="755" width="3" height="1" fill="#000"/>
<rect x="108" y="755" width="3" height="1" fill="#000"/>
<rect x="114" y="755" width="3" height="1" fill="#000"/>
<rect x="120" y="755" width="3" height="1" fill="#000"/>
<rect x="126" y="755" width="3" height="1" fill="#000"/>
<rect x="132" y="755" width="3" height="1" fill="#000"/>
<rect x="138" y="755" width="3" height="1" fill="#000"/>
<rect x="144" y="755" width="3" height="1" fill="#000"/>
<rect x="150" y="755" width="3" height="1" fill="#000"/>
<rect x="156" y="755" width="3" height="1" fill="#000"/>
<rect x="162" y="755" width="3" height="1" fill="#000"/>
<rect x="168" y="755" width="3" height="1" fill="#000"/>
<rect x="174" y="755" width="3" height="1" fill="#000"/>
<rect x="180" y="755" width="3" height="1" fill="#000"/>
<rect x="186" y="755" width="3" height="1" fill="#000"/>
<rect x="192" y="755" width="3" height="1" fill="#000"/>
<rect x="198" y="755" width="3" height="1" fill="#000"/>
<rect x="204" y="755" width="3" height="1" fill="#000"/>
<rect x="210" y="755" width="3" height="1" fill="#000"/>
<rect x="216" y="755" width="3" height="1" fill="#000"/>
<rect x="222" y="755" width="3" height="1" fill="#000"/>
<rect x="228" y="755" width="3" height="1" fill="#000"/>
<rect x="234" y="755" width="3" height="1" fill="#000"/>
<rect x="240" y="755" width="3" height="1" fill="#000"/>
<rect x="246" y="755" width="3" height="1" fill="#000"/>
<rect x="252" y="755" width="3" height="1" fill="#000"/>
<rect x="258" y="755" width="3" height="1" fill="#000"/>
<rect x="264" y="755" width="3" height="1" fill="#000"/>
<rect x="270" y="755" width="3" height="1" fill="#000"/>
<rect x="276" y="755" width="3" height="1" fill="#000"/>
<rect x="282" y="755" width="3" height="1" fill="#000"/>
<rect x="288" y="755" width="3" height="1" fill="#000"/>
<rect x="294" y="755" width="3" height="1" fill="#000"/>
<rect x="300" y="755" width="3" height="1" fill="#000"/>
<rect x="306" y="755" width="3" height="1" fill="#000"/>
<rect x="312" y="755" width="3" height="1" fill="#000"/>
<rect x="318" y="755" width="3" height="1" fill="#000"/>
<rect x="324" y="755" width="3" height="1" fill="#000"/>
<rect x="330" y="755" width="3" height="1" fill="#000"/>
<rect x="336" y="755" width="3" height="1" fill="#000"/>
<rect x="342" y="755" width="3" height="1" fill="#000"/>
<rect x="348" y="755" width="3" height="1" fill="#000"/>
<rect x="354" y="755" width="3" height="1" fill="#000"/>
<rect x="360" y="755" width="3" height="1" fill="#000"/>
<rect x="366" y="755" width="3" height="1" fill="#000"/>
<rect x="372" y="755" width="3" height="1" fill="#000"/>
<rect x="378" y="755" width="3" height="1" fill="#000"/>
<rect x="384" y="755" width="3" height="1" fill="#000"/>
<rect x="390" y="755" width="3" height="1" fill="#000"/>
<rect x="396" y="755" width="3" height="1" fill="#000"/>
<rect x="402" y="755" width="3" height="1" fill="#000"/>
<rect x="408" y="755" width="3" height="1" fill="#000"/>
<rect x="414" y="755" width="3" height="1" fill="#000"/>
<rect x="420" y="755" width="3" height="1" fill="#000"/>
<rect x="426" y="755" width="3" height="1" fill="#000"/>
<rect x="432" y="755" width="3" height="1" fill="#000"/>
<rect x="438" y="755" width="3" height="1" fill="#000"/>
<rect x="444" y="755" width="3" height="1" fill="#000"/>
<rect x="450" y="755" width="3" height="1" fill="#000"/>
<rect x="456" y="755" width="3" height="1" fill="#000"/>
<rect x="462" y="755" width="3" height="1" fill="#000"/>
<rect x="468" y="755" width="3" height="1" fill="#000"/>
<rect x="474" y="755" width="3" height="1" fill="#000"/>
<rect x="480" y="755" width="3" height="1" fill="#000"/>
<rect x="486" y="755" width="3" height="1" fill="#000"/>
<rect x="492" y="755" width="3" height="1" fill="#000"/>
<rect x="498" y="755" width="3" height="1" fill="#000"/>
<rect x="504" y="755" width="3" height="1" fill="#000"/>
<rect x="510" y="755" width="3" height="1" fill="#000"/>
<rect x="516" y="755" width="3" height="1" fill="#000"/>
<rect x="522" y="755" width="3" height="1" fill="#000"/>
<rect x="528" y="755" width="3" height="1" fill="#000"/>
<rect x="534" y="755" width="3" height="1" fill="#000"/>
<rect x="540" y="755" width="3" height="1" fill="#000"/>
<rect x="546" y="755" width="3" height="1" fill="#000"/>
<rect x="552" y="755" width="3" height="1" fill="#000"/>
<rect x="558" y="755" width="3" height="1" fill="#000"/>
<rect x="564" y="755" width="3" height="1" fill="#000"/>
<rect x="570" y="755" width="3" height="1" fill="#000"/>
<rect x="576" y="755" width="3" height="1" fill="#000"/>
<rect x="582" y="755" width="3" height="1" fill="#000"/>
<rect x="588" y="755" width="3" height="1" fill="#000"/>
<rect x="594" y="755" width="3" height="1" fill="#000"/>
<rect x="600" y="755" width="3" height="1" fill="#000"/>
<rect x="606" y="755" width="3" height="1" fill="#000"/>
<rect x="612" y="755" width="3" height="1" fill="#000"/>
<rect x="618" y="755" width="3" height="1" fill="#000"/>
<rect x="624" y="755" width="3" height="1" fill="#000"/>
<rect x="630" y="755" width="3" height="1" fill="#000"/>
<rect x="636" y="755" width="3" height="1" fill="#000"/>
<rect x="642" y="755" width="3" height="1" fill="#000"/>
<rect x="648" y="755" width="3" height="1" fill="#000"/>
<rect x="654" y="755" width="3" height="1" fill="#000"/>
<rect x="660" y="755" width="3" height="1" fill="#000"/>
<rect x="666" y="755" width="3" height="1" fill="#000"/>
<rect x="672" y="755" width="3" height="1" fill="#000"/>
<rect x="678" y="755" width="3" height="1" fill="#000"/>
<rect x="684" y="755" width="3" height="1" fill="#000"/>
<rect x="690" y="755" width="3" height="1" fill="#000"/>
<rect x="696" y="755" width="3" height="1" fill="#000"/>
<rect x="702" y="755" width="3" height="1" fill="#000"/>
<rect x="708" y="755" width="3" height="1" fill="#000"/>
<rect x="714" y="755" width="3" height="1" fill="#000"/>
<rect x="720" y="755" width="3" height="1" fill="#000"/>
<rect x="726" y="755" width="3" height="1" fill="#000"/>
<rect x="732" y="755" width="3" height="1" fill="#000"/>
<rect x="738" y="755" width="3" height="1" fill="#000"/>
<rect x="744" y="755" width="3" height="1" fill="#000"/>
<rect x="750" y="755" width="3" height="1" fill="#000"/>
<rect x="756" y="755" width="3" height="1" fill="#000"/>
<rect x="762" y="755" width="3" height="1" fill="#000"/>
<rect x="768" y="755" width="3" height="1" fill="#000"/>
<rect x="774" y="755" width="3" height="1" fill="#000"/>
<rect x="780" y="755" width="3" height="1" fill="#000"/>
<rect x="786" y="755" width="3" height="1" fill="#000"/>
<rect x="792" y="755" width="3" height="1" fill="#000"/>
<rect x="798" y="755" width="3" height="1" fill="#000"/>
<rect x="804" y="755" width="3" height="1" fill="#000"/>
<rect x="810" y="755" width="3" height="1" fill="#000"/>
<rect x="816" y="755" width="3" height="1" fill="#000"/>
<rect x="822" y="755" width="3" height="1" fill="#000"/>
<rect x="828" y="755" width="3" height="1" fill="#000"/>
<rect x="834" y="755" width="3" height="1" fill="#000"/>
<rect x="840" y="755" width="3" height="1" fill="#000"/>
<rect x="846" y="755" width="3" height="1" fill="#000"/>
<rect x="852" y="755" width="3" height="1" fill="#000"/>
<rect x="858" y="755" width="3" height="1" fill="#000"/>
<rect x="864" y="755" width="3" height="1" fill="#000"/>
<rect x="870" y="755" width="3" height="1" fill="#000"/>
<rect x="876" y="755" width="3" height="1" fill="#000"/>
<rect x="882" y="755" width="3" height="1" fill="#000"/>
<rect x="888" y="755" width="3" height="1" fill="#000"/>
<rect x="894" y="755" width="3" height="1" fill="#000"/>
<rect x="900" y="755" width="3" height="1" fill="#000"/>
<rect x="906" y="755" width="3" height="1" fill="#000"/>
<rect x="912" y="755" width="3" height="1" fill="#000"/>
<rect x="918" y="755" width="3" height="1" fill="#000"/>
<rect x="924" y="755" width="3" height="1" fill="#000"/>
<rect x="930" y="755" width="3" height="1" fill="#000"/>
<rect x="936" y="755" width="3" height="1" fill="#000"/>
<rect x="942" y="755" width="3" height="1" fill="#000"/>
<rect x="948" y="755" width="3" height="1" fill="#000"/>
<rect x="954" y="755" width="3" height="1" fill="#000"/>
<rect x="960" y="755" width="3" height="1" fill="#000"/>
<rect x="966" y="755" width="3" height="1" fill="#000"/>
<rect x="972" y="755" width="3" height="1" fill="#000"/>
<rect x="978" y="755" width="3" height="1" fill="#000"/>
<rect x="984" y="755" width="3" height="1" fill="#000"/>
<rect x="990" y="755" width="3" height="1" fill="#000"/>
<rect x="996" y="755" width="3" height="1" fill="#000"/>
<rect x="1002" y="755" width="3" height="1" fill="#000"/>
<rect x="1008" y="755" width="3" height="1" fill="#000"/>
<rect x="1014" y="755" width="3" height="1" fill="#000"/>
<rect x="1020" y="755" width="3" height="1" fill="#000"/>
<rect x="1026" y="755" width="3" height="1" fill="#000"/>
<rect x="1032" y="755" width="3" height="1" fill="#000"/>
<rect x="1038" y="755" width="3" height="1" fill="#000"/>
<rect x="1044" y="755" width="3" height="1" fill="#000"/>
<rect x="1050" y="755" width="3" height="1" fill="#000"/>
<rect x="1056" y="755" width="3" height="1" fill="#000"/>
<rect x="1062" y="755" width="3" height="1" fill="#000"/>
<rect x="1068" y="755" width="3" height="1" fill="#000"/>
<rect x="1074" y="755" width="3" height="1" fill="#000"/>
<rect x="1080" y="755" width="3" height="1" fill="#000"/>
<rect x="1086" y="755" width="3" height="1" fill="#000"/>
<rect x="1092" y="755" width="3" height="1" fill="#000"/>
<rect x="1098" y="755" width="3" height="1" fill="#000"/>
<rect x="1104" y="755" width="3" height="1" fill="#000"/>
<rect x="1110" y="755" width="3" height="1" fill="#000"/>
<rect x="1116" y="755" width="3" height="1" fill="#000"/>
<rect x="1122" y="755" width="3" height="1" fill="#000"/>
<rect x="1128" y="755" width="3" height="1" fill="#000"/>
<rect x="1134" y="755" width="3" height="1" fill="#000"/>
<rect x="1140" y="755" width="3" height="1" fill="#000"/>
<rect x="1146" y="755" width="3" height="1" fill="#000"/>
<rect x="1152" y="755" width="3" height="1" fill="#000"/>
<rect x="1158" y="755" width="3" height="1" fill="#000"/>
<rect x="1164" y="755" width="3" height="1" fill="#000"/>
<rect x="1170" y="755" width="3" height="1" fill="#000"/>
<rect x="1176" y="755" width="3" height="1" fill="#000"/>
<rect x="1182" y="755" width="3" height="1" fill="#000"/>
<rect x="1188" y="755" width="3" height="1" fill="#000"/>
<rect x="1194" y="755" width="3" height="1" fill="#000"/>
<rect x="1200" y="755" width="3" height="1" fill="#000"/>
<rect x="1206" y="755" width="3" height="1" fill="#000"/>
<rect x="1212" y="755" width="3" height="1" fill="#000"/>
<rect x="1218" y="755" width="3" height="1" fill="#000"/>
<rect x="1224" y="755" width="3" height="1" fill="#000"/>
<rect x="1230" y="755" width="3" height="1" fill="#000"/>
<rect x="1236" y="755" width="3" height="1" fill="#000"/>
<rect x="1242" y="755" width="3" height="1" fill="#000"/>
<rect x="1248" y="755" width="3" height="1" fill="#000"/>
<rect x="1254" y="755" width="3" height="1" fill="#000"/>
<rect x="1260" y="755" width="3" height="1" fill="#000"/>
<rect x="1266" y="755" width="3" height="1" fill="#000"/>
<rect x="1272" y="755" width="3" height="1" fill="#000"/>
<rect x="1278" y="755" width="3" height="1" fill="#000"/>
<rect x="1284" y="755" width="3" height="1" fill="#000"/>
<rect x="1290" y="755" width="3" height="1" fill="#000"/>
<rect x="1296" y="755" width="3" height="1" fill="#000"/>
<rect x="1302" y="755" width="3" height="1" fill="#000"/>
<rect x="1308" y="755" width="3" height="1" fill="#000"/>
<rect x="1314" y="755" width="3" height="1" fill="#000"/>
<rect x="1320" y="755" width="3" height="1" fill="#000"/>
<rect x="1326" y="755" width="3" height="1" fill="#000"/>
<rect x="1332" y="755" width="3" height="1" fill="#000"/>
<rect x="1338" y="755" width="3" height="1" fill="#000"/>
<rect x="1344" y="755" width="3" height="1" fill="#000"/>
<rect x="1350" y="755" width="3" height="1" fill="#000"/>
<rect x="1356" y="755" width="3" height="1" fill="#000"/>
<rect x="1362" y="755" width="3" height="1" fill="#000"/>
<rect x="1368" y="755" width="3" height="1" fill="#000"/>
<rect x="1374" y="755" width="3" height="1" fill="#000"/>
<rect x="1380" y="755" width="3" height="1" fill="#000"/>
<rect x="1386" y="755" width="3" height="1" fill="#000"/>
<rect x="1392" y="755" width="3" height="1" fill="#000"/>
<rect x="1398" y="755" width="3" height="1" fill="#000"/>
<rect x="1404" y="755" width="3" height="1" fill="#000"/>
<rect x="1410" y="755" width="3" height="1" fill="#000"/>
<rect x="1416" y="755" width="3" height="1" fill="#000"/>
<rect x="1422" y="755" width="3" height="1" fill="#000"/>
<rect x="1428" y="755" width="3" height="1" fill="#000"/>
<rect x="1434" y="755" width="3" height="1" fill="#000"/>
<rect x="1440" y="755" width="3" height="1" fill="#000"/>
<rect x="1446" y="755" width="3" height="1" fill="#000"/>
<rect x="1452" y="755" width="3" height="1" fill="#000"/>
<rect x="1458" y="755" width="3" height="1" fill="#000"/>
<rect x="1464" y="755" width="3" height="1" fill="#000"/>
<rect x="1470" y="755" width="3" height="1" fill="#000"/>
<rect x="1476" y="755" width="3" height="1" fill="#000"/>
<rect x="1482" y="755" width="3" height="1" fill="#000"/>
<rect x="1488" y="755" width="3" height="1" fill="#000"/>
<rect x="1494" y="755" width="3" height="1" fill="#000"/>
<rect x="1500" y="755" width="3" height="1" fill="#000"/>
<rect x="1506" y="755" width="3" height="1" fill="#000"/>
<rect x="1512" y="755" width="3" height="1" fill="#000"/>
<rect x="1518" y="755" width="3" height="1" fill="#000"/>
<rect x="1524" y="755" width="3" height="1" fill="#000"/>
<rect x="1530" y="755" width="3" height="1" fill="#000"/>
<rect x="1536" y="755" width="3" height="1" fill="#000"/>
<rect x="1542" y="755" width="3" height="1" fill="#000"/>
<rect x="1548" y="755" width="3" height="1" fill="#000"/>
<rect x="1554" y="755" width="3" height="1" fill="#000"/>
<rect x="1560" y="755" width="3" height="1" fill="#000"/>
<rect x="1566" y="755" width="3" height="1" fill="#000"/>
<rect x="1572" y="755" width="3" height="1" fill="#000"/>
<rect x="1578" y="755" width="3" height="1" fill="#000"/>
<rect x="1584" y="755" width="3" height="1" fill="#000"/>
<rect x="1590" y="755" width="3" height="1" fill="#000"/>
<rect x="1596" y="755" width="3" height="1" fill="#000"/>
<rect x="1602" y="755" width="3" height="1" fill="#000"/>
<rect x="1608" y="755" width="3" height="1" fill="#000"/>
<rect x="6" y="788" width="3" height="1" fill="#000"/>
<rect x="12" y="788" width="3" height="1" fill="#000"/>
<rect x="18" y="788" width="3" height="1" fill="#000"/>
<rect x="24" y="788" width="3" height="1" fill="#000"/>
<rect x="30" y="788" width="3" height="1" fill="#000"/>
<rect x="36" y="788" width="3" height="1" fill="#000"/>
<rect x="42" y="788" width="3" height="1" fill="#000"/>
<rect x="48" y="788" width="3" height="1" fill="#000"/>
<rect x="54" y="788" width="3" height="1" fill="#000"/>
<rect x="60" y="788" width="3" height="1" fill="#000"/>
<rect x="66" y="788" width="3" height="1" fill="#000"/>
<rect x="72" y="788" width="3" height="1" fill="#000"/>
<rect x="78" y="788" width="3" height="1" fill="#000"/>
<rect x="84" y="788" width="3" height="1" fill="#000"/>
<rect x="90" y="788" width="3" height="1" fill="#000"/>
<rect x="96" y="788" width="3" height="1" fill="#000"/>
<rect x="102" y="788" width="3" height="1" fill="#000"/>
<rect x="108" y="788" width="3" height="1" fill="#000"/>
<rect x="114" y="788" width="3" height="1" fill="#000"/>
<rect x="120" y="788" width="3" height="1" fill="#000"/>
<rect x="126" y="788" width="3" height="1" fill="#000"/>
<rect x="132" y="788" width="3" height="1" fill="#000"/>
<rect x="138" y="788" width="3" height="1" fill="#000"/>
<rect x="144" y="788" width="3" height="1" fill="#000"/>
<rect x="150" y="788" width="3" height="1" fill="#000"/>
<rect x="156" y="788" width="3" height="1" fill="#000"/>
<rect x="162" y="788" width="3" height="1" fill="#000"/>
<rect x="168" y="788" width="3" height="1" fill="#000"/>
<rect x="174" y="788" width="3" height="1" fill="#000"/>
<rect x="180" y="788" width="3" height="1" fill="#000"/>
<rect x="186" y="788" width="3" height="1" fill="#000"/>
<rect x="192" y="788" width="3" height="1" fill="#000"/>
<rect x="198" y="788" width="3" height="1" fill="#000"/>
<rect x="204" y="788" width="3" height="1" fill="#000"/>
<rect x="210" y="788" width="3" height="1" fill="#000"/>
<rect x="216" y="788" width="3" height="1" fill="#000"/>
<rect x="222" y="788" width="3" height="1" fill="#000"/>
<rect x="228" y="788" width="3" height="1" fill="#000"/>
<rect x="234" y="788" width="3" height="1" fill="#000"/>
<rect x="240" y="788" width="3" height="1" fill="#000"/>
<rect x="246" y="788" width="3" height="1" fill="#000"/>
<rect x="252" y="788" width="3" height="1" fill="#000"/>
<rect x="258" y="788" width="3" height="1" fill="#000"/>
<rect x="264" y="788" width="3" height="1" fill="#000"/>
<rect x="270" y="788" width="3" height="1" fill="#000"/>
<rect x="276" y="788" width="3" height="1" fill="#000"/>
<rect x="282" y="788" width="3" height="1" fill="#000"/>
<rect x="288" y="788" width="3" height="1" fill="#000"/>
<rect x="294" y="788" width="3" height="1" fill="#000"/>
<rect x="300" y="788" width="3" height="1" fill="#000"/>
<rect x="306" y="788" width="3" height="1" fill="#000"/>
<rect x="312" y="788" width="3" height="1" fill="#000"/>
<rect x="318" y="788" width="3" height="1" fill="#000"/>
<rect x="324" y="788" width="3" height="1" fill="#000"/>
<rect x="330" y="788" width="3" height="1" fill="#000"/>
<rect x="336" y="788" width="3" height="1" fill="#000"/>
<rect x="342" y="788" width="3" height="1" fill="#000"/>
<rect x="348" y="788" width="3" height="1" fill="#000"/>
<rect x="354" y="788" width="3" height="1" fill="#000"/>
<rect x="360" y="788" width="3" height="1" fill="#000"/>
<rect x="366" y="788" width="3" height="1" fill="#000"/>
<rect x="372" y="788" width="3" height="1" fill="#000"/>
<rect x="378" y="788" width="3" height="1" fill="#000"/>
<rect x="384" y="788" width="3" height="1" fill="#000"/>
<rect x="390" y="788" width="3" height="1" fill="#000"/>
<rect x="396" y="788" width="3" height="1" fill="#000"/>
<rect x="402" y="788" width="3" height="1" fill="#000"/>
<rect x="408" y="788" width="3" height="1" fill="#000"/>
<rect x="414" y="788" width="3" height="1" fill="#000"/>
<rect x="420" y="788" width="3" height="1" fill="#000"/>
<rect x="426" y="788" width="3" height="1" fill="#000"/>
<rect x="432" y="788" width="3" height="1" fill="#000"/>
<rect x="438" y="788" width="3" height="1" fill="#000"/>
<rect x="444" y="788" width="3" height="1" fill="#000"/>
<rect x="450" y="788" width="3" height="1" fill="#000"/>
<rect x="456" y="788" width="3" height="1" fill="#000"/>
<rect x="462" y="788" width="3" height="1" fill="#000"/>
<rect x="468" y="788" width="3" height="1" fill="#000"/>
<rect x="474" y="788" width="3" height="1" fill="#000"/>
<rect x="480" y="788" width="3" height="1" fill="#000"/>
<rect x="486" y="788" width="3" height="1" fill="#000"/>
<rect x="492" y="788" width="3" height="1" fill="#000"/>
<rect x="498" y="788" width="3" height="1" fill="#000"/>
<rect x="504" y="788" width="3" height="1" fill="#000"/>
<rect x="510" y="788" width="3" height="1" fill="#000"/>
<rect x="516" y="788" width="3" height="1" fill="#000"/>
<rect x="522" y="788" width="3" height="1" fill="#000"/>
<rect x="528" y="788" width="3" height="1" fill="#000"/>
<rect x="534" y="788" width="3" height="1" fill="#000"/>
<rect x="540" y="788" width="3" height="1" fill="#000"/>
<rect x="546" y="788" width="3" height="1" fill="#000"/>
<rect x="552" y="788" width="3" height="1" fill="#000"/>
<rect x="558" y="788" width="3" height="1" fill="#000"/>
<rect x="564" y="788" width="3" height="1" fill="#000"/>
<rect x="570" y="788" width="3" height="1" fill="#000"/>
<rect x="576" y="788" width="3" height="1" fill="#000"/>
<rect x="582" y="788" width="3" height="1" fill="#000"/>
<rect x="588" y="788" width="3" height="1" fill="#000"/>
<rect x="594" y="788" width="3" height="1" fill="#000"/>
<rect x="600" y="788" width="3" height="1" fill="#000"/>
<rect x="606" y="788" width="3" height="1" fill="#000"/>
<rect x="612" y="788" width="3" height="1" fill="#000"/>
<rect x="618" y="788" width="3" height="1" fill="#000"/>
<rect x="624" y="788" width="3" height="1" fill="#000"/>
<rect x="630" y="788" width="3" height="1" fill="#000"/>
<rect x="636" y="788" width="3" height="1" fill="#000"/>
<rect x="642" y="788" width="3" height="1" fill="#000"/>
<rect x="648" y="788" width="3" height="1" fill="#000"/>
<rect x="654" y="788" width="3" height="1" fill="#000"/>
<rect x="660" y="788" width="3" height="1" fill="#000"/>
<rect x="666" y="788" width="3" height="1" fill="#000"/>
<rect x="672" y="788" width="3" height="1" fill="#000"/>
<rect x="678" y="788" width="3" height="1" fill="#000"/>
<rect x="684" y="788" width="3" height="1" fill="#000"/>
<rect x="690" y="788" width="3" height="1" fill="#000"/>
<rect x="696" y="788" width="3" height="1" fill="#000"/>
<rect x="702" y="788" width="3" height="1" fill="#000"/>
<rect x="708" y="788" width="3" height="1" fill="#000"/>
<rect x="714" y="788" width="3" height="1" fill="#000"/>
<rect x="720" y="788" width="3" height="1" fill="#000"/>
<rect x="726" y="788" width="3" height="1" fill="#000"/>
<rect x="732" y="788" width="3" height="1" fill="#000"/>
<rect x="738" y="788" width="3" height="1" fill="#000"/>
<rect x="744" y="788" width="3" height="1" fill="#000"/>
<rect x="750" y="788" width="3" height="1" fill="#000"/>
<rect x="756" y="788" width="3" height="1" fill="#000"/>
<rect x="762" y="788" width="3" height="1" fill="#000"/>
<rect x="768" y="788" width="3" height="1" fill="#000"/>
<rect x="774" y="788" width="3" height="1" fill="#000"/>
<rect x="780" y="788" width="3" height="1" fill="#000"/>
<rect x="786" y="788" width="3" height="1" fill="#000"/>
<rect x="792" y="788" width="3" height="1" fill="#000"/>
<rect x="798" y="788" width="3" height="1" fill="#000"/>
<rect x="804" y="788" width="3" height="1" fill="#000"/>
<rect x="810" y="788" width="3" height="1" fill="#000"/>
<rect x="816" y="788" width="3" height="1" fill="#000"/>
<rect x="822" y="788" width="3" height="1" fill="#000"/>
<rect x="828" y="788" width="3" height="1" fill="#000"/>
<rect x="834" y="788" width="3" height="1" fill="#000"/>
<rect x="840" y="788" width="3" height="1" fill="#000"/>
<rect x="846" y="788" width="3" height="1" fill="#000"/>
<rect x="852" y="788" width="3" height="1" fill="#000"/>
<rect x="858" y="788" width="3" height="1" fill="#000"/>
<rect x="864" y="788" width="3" height="1" fill="#000"/>
<rect x="870" y="788" width="3" height="1" fill="#000"/>
<rect x="876" y="788" width="3" height="1" fill="#000"/>
<rect x="882" y="788" width="3" height="1" fill="#000"/>
<rect x="888" y="788" width="3" height="1" fill="#000"/>
<rect x="894" y="788" width="3" height="1" fill="#000"/>
<rect x="900" y="788" width="3" height="1" fill="#000"/>
<rect x="906" y="788" width="3" height="1" fill="#000"/>
<rect x="912" y="788" width="3" height="1" fill="#000"/>
<rect x="918" y="788" width="3" height="1" fill="#000"/>
<rect x="924" y="788" width="3" height="1" fill="#000"/>
<rect x="930" y="788" width="3" height="1" fill="#000"/>
<rect x="936" y="788" width="3" height="1" fill="#000"/>
<rect x="942" y="788" width="3" height="1" fill="#000"/>
<rect x="948" y="788" width="3" height="1" fill="#000"/>
<rect x="954" y="788" width="3" height="1" fill="#000"/>
<rect x="960" y="788" width="3" height="1" fill="#000"/>
<rect x="966" y="788" width="3" height="1" fill="#000"/>
<rect x="972" y="788" width="3" height="1" fill="#000"/>
<rect x="978" y="788" width="3" height="1" fill="#000"/>
<rect x="984" y="788" width="3" height="1" fill="#000"/>
<rect x="990" y="788" width="3" height="1" fill="#000"/>
<rect x="996" y="788" width="3" height="1" fill="#000"/>
<rect x="1002" y="788" width="3" height="1" fill="#000"/>
<rect x="1008" y="788" width="3" height="1" fill="#000"/>
<rect x="1014" y="788" width="3" height="1" fill="#000"/>
<rect x="1020" y="788" width="3" height="1" fill="#000"/>
<rect x="1026" y="788" width="3" height="1" fill="#000"/>
<rect x="1032" y="788" width="3" height="1" fill="#000"/>
<rect x="1038" y="788" width="3" height="1" fill="#000"/>
<rect x="1044" y="788" width="3" height="1" fill="#000"/>
<rect x="1050" y="788" width="3" height="1" fill="#000"/>
<rect x="1056" y="788" width="3" height="1" fill="#000"/>
<rect x="1062" y="788" width="3" height="1" fill="#000"/>
<rect x="1068" y="788" width="3" height="1" fill="#000"/>
<rect x="1074" y="788" width="3" height="1" fill="#000"/>
<rect x="1080" y="788" width="3" height="1" fill="#000"/>
<rect x="1086" y="788" width="3" height="1" fill="#000"/>
<rect x="1092" y="788" width="3" height="1" fill="#000"/>
<rect x="1098" y="788" width="3" height="1" fill="#000"/>
<rect x="1104" y="788" width="3" height="1" fill="#000"/>
<rect x="1110" y="788" width="3" height="1" fill="#000"/>
<rect x="1116" y="788" width="3" height="1" fill="#000"/>
<rect x="1122" y="788" width="3" height="1" fill="#000"/>
<rect x="1128" y="788" width="3" height="1" fill="#000"/>
<rect x="1134" y="788" width="3" height="1" fill="#000"/>
<rect x="1140" y="788" width="3" height="1" fill="#000"/>
<rect x="1146" y="788" width="3" height="1" fill="#000"/>
<rect x="1152" y="788" width="3" height="1" fill="#000"/>
<rect x="1158" y="788" width="3" height="1" fill="#000"/>
<rect x="1164" y="788" width="3" height="1" fill="#000"/>
<rect x="1170" y="788" width="3" height="1" fill="#000"/>
<rect x="1176" y="788" width="3" height="1" fill="#000"/>
<rect x="1182" y="788" width="3" height="1" fill="#000"/>
<rect x="1188" y="788" width="3" height="1" fill="#000"/>
<rect x="1194" y="788" width="3" height="1" fill="#000"/>
<rect x="1200" y="788" width="3" height="1" fill="#000"/>
<rect x="1206" y="788" width="3" height="1" fill="#000"/>
<rect x="1212" y="788" width="3" height="1" fill="#000"/>
<rect x="1218" y="788" width="3" height="1" fill="#000"/>
<rect x="1224" y="788" width="3" height="1" fill="#000"/>
<rect x="1230" y="788" width="3" height="1" fill="#000"/>
<rect x="1236" y="788" width="3" height="1" fill="#000"/>
<rect x="1242" y="788" width="3" height="1" fill="#000"/>
<rect x="1248" y="788" width="3" height="1" fill="#000"/>
<rect x="1254" y="788" width="3" height="1" fill="#000"/>
<rect x="1260" y="788" width="3" height="1" fill="#000"/>
<rect x="1266" y="788" width="3" height="1" fill="#000"/>
<rect x="1272" y="788" width="3" height="1" fill="#000"/>
<rect x="1278" y="788" width="3" height="1" fill="#000"/>
<rect x="1284" y="788" width="3" height="1" fill="#000"/>
<rect x="1290" y="788" width="3" height="1" fill="#000"/>
<rect x="1296" y="788" width="3" height="1" fill="#000"/>
<rect x="1302" y="788" width="3" height="1" fill="#000"/>
<rect x="1308" y="788" width="3" height="1" fill="#000"/>
<rect x="1314" y="788" width="3" height="1" fill="#000"/>
<rect x="1320" y="788" width="3" height="1" fill="#000"/>
<rect x="1326" y="788" width="3" height="1" fill="#000"/>
<rect x="1332" y="788" width="3" height="1" fill="#000"/>
<rect x="1338" y="788" width="3" height="1" fill="#000"/>
<rect x="1344" y="788" width="3" height="1" fill="#000"/>
<rect x="1350" y="788" width="3" height="1" fill="#000"/>
<rect x="1356" y="788" width="3" height="1" fill="#000"/>
<rect x="1362" y="788" width="3" height="1" fill="#000"/>
<rect x="1368" y="788" width="3" height="1" fill="#000"/>
<rect x="1374" y="788" width="3" height="1" fill="#000"/>
<rect x="1380" y="788" width="3" height="1" fill="#000"/>
<rect x="1386" y="788" width="3" height="1" fill="#000"/>
<rect x="1392" y="788" width="3" height="1" fill="#000"/>
<rect x="1398" y="788" width="3" height="1" fill="#000"/>
<rect x="1404" y="788" width="3" height="1" fill="#000"/>
<rect x="1410" y="788" width="3" height="1" fill="#000"/>
<rect x="1416" y="788" width="3" height="1" fill="#000"/>
<rect x="1422" y="788" width="3" height="1" fill="#000"/>
<rect x="1428" y="788" width="3" height="1" fill="#000"/>
<rect x="1434" y="788" width="3" height="1" fill="#000"/>
<rect x="1440" y="788" width="3" height="1" fill="#000"/>
<rect x="1446" y="788" width="3" height="1" fill="#000"/>
<rect x="1452" y="788" width="3" height="1" fill="#000"/>
<rect x="1458" y="788" width="3" height="1" fill="#000"/>
<rect x="1464" y="788" width="3" height="1" fill="#000"/>
<rect x="1470" y="788" width="3" height="1" fill="#000"/>
<rect x="1476" y="788" width="3" height="1" fill="#000"/>
<rect x="1482" y="788" width="3" height="1" fill="#000"/>
<rect x="1488" y="788" width="3" height="1" fill="#000"/>
<rect x="1494" y="788" width="3" height="1" fill="#000"/>
<rect x="1500" y="788" width="3" height="1" fill="#000"/>
<rect x="1506" y="788" width="3" height="1" fill="#000"/>
<rect x="1512" y="788" width="3" height="1" fill="#000"/>
<rect x="1518" y="788" width="3" height="1" fill="#000"/>
<rect x="1524" y="788" width="3" height="1" fill="#000"/>
<rect x="1530" y="788" width="3" height="1" fill="#000"/>
<rect x="1536" y="788" width="3" height="1" fill="#000"/>
<rect x="1542" y="788" width="3" height="1" fill="#000"/>
<rect x="1548" y="788" width="3" height="1" fill="#000"/>
<rect x="1554" y="788" width="3" height="1" fill="#000"/>
<rect x="1560" y="788" width="3" height="1" fill="#000"/>
<rect x="1566" y="788" width="3" height="1" fill="#000"/>
<rect x="1572" y="788" width="3" height="1" fill="#000"/>
<rect x="1578" y="788" width="3" height="1" fill="#000"/>
<rect x="1584" y="788" width="3" height="1" fill="#000"/>
<rect x="1590" y="788" width="3" height="1" fill="#000"/>
<rect x="1596" y="788" width="3" height="1" fill="#000"/>
<rect x="1602" y="788" width="3" height="1" fill="#000"/>
<rect x="1608" y="788" width="3" height="1" fill="#000"/>
<polyline points="5,750 5.5,750 21.5,750 37.5,750 53.5,751.3 69.5,751.5 85.5,757 101.5,767 117.5,767 133.5,767 149.5,765 165.5,765 181.5,769.8 197.5,760 213.5,763.5 229.5,762.5 245.5,764 261.5,770.8 277.5,774.4 293.5,773.8 309.5,774.4 325.5,775 341.5,778 357.5,780 373.5,779 389.5,782.3 405.5,782.5 421.5,782.5 437.5,779 453.5,778.5 469.5,775.5 485.5,770.3 501.5,770 517.5,770 533.5,774 549.5,773.5 565.5,768 581.5,754.4 597.5,754 613.5,754 629.5,753 645.5,752 661.5,761 677.5,768.5 693.5,770 709.5,769.3 725.5,766 741.5,767.5 757.5,771 773.5,769 789.5,780 805.5,777.5 821.5,775.3 837.5,775.3 853.5,775.3 869.5,772.3 885.5,771.5 901.5,770 917.5,770 933.5,767 949.5,754.4 965.5,753.3 981.5,753 997.5,758.3 1013.5,760 1029.5,765 1045.5,761 1061.5,759 1077.5,759 1093.5,759 1109.5,761.5 1125.5,760.3 1141.5,777.5 1157.5,778.5 1173.5,778.5 1189.5,779 1205.5,780.3 1221.5,784.5 1237.5,786.5 1253.5,787 1269.5,787" fill="none" stroke="#1e90ff" stroke-width="2"/>
</g>
<text x="9.5" y="722">RSI(14) 16.0378</text>
<text x="1616" y="719">100</text>
<text x="1615" y="732">80</text>
<text x="1615" y="759">50</text>
<text x="1615" y="792">15</text>
<text x="1616" y="799">0</text>
<rect x="5" y="803" width="1" height="3" fill="#000"/>
<text x="5" y="815">14 Apr 2023</text>
<rect x="69" y="803" width="1" height="3" fill="#000"/>
<text x="69" y="815">17 Apr 04:00</text>
<rect x="133" y="803" width="1" height="3" fill="#000"/>
<text x="133" y="815">17 Apr 20:00</text>
<rect x="197" y="803" width="1" height="3" fill="#000"/>
<text x="197" y="815">18 Apr 12:00</text>
<rect x="261" y="803" width="1" height="3" fill="#000"/>
<text x="261" y="815">19 Apr 04:00</text>
<rect x="325" y="803" width="1" height="3" fill="#000"/>
<text x="325" y="815">19 Apr 20:00</text>
<rect x="389" y="803" width="1" height="3" fill="#000"/>
<text x="389" y="815">20 Apr 12:00</text>
<rect x="453" y="803" width="1" height="3" fill="#000"/>
<text x="453" y="815">21 Apr 04:00</text>
<rect x="517" y="803" width="1" height="3" fill="#000"/>
<text x="517" y="815">21 Apr 20:00</text>
<rect x="581" y="803" width="1" height="3" fill="#000"/>
<text x="581" y="815">24 Apr 12:00</text>
<rect x="645" y="803" width="1" height="3" fill="#000"/>
<text x="645" y="815">25 Apr 04:00</text>
<rect x="709" y="803" width="1" height="3" fill="#000"/>
<text x="709" y="815">25 Apr 20:00</text>
<rect x="773" y="803" width="1" height="3" fill="#000"/>
<text x="773" y="815">26 Apr 12:00</text>
<rect x="837" y="803" width="1" height="3" fill="#000"/>
<text x="837" y="815">27 Apr 08:00</text>
<rect x="901" y="803" width="1" height="3" fill="#000"/>
<text x="901" y="815">28 Apr 00:00</text>
<rect x="965" y="803" width="1" height="3" fill="#000"/>
<text x="965" y="815">28 Apr 16:00</text>
<rect x="1029" y="803" width="1" height="3" fill="#000"/>
<text x="1029" y="815">1 May 08:00</text>
<rect x="1093" y="803" width="1" height="3" fill="#000"/>
<text x="1093" y="815">2 May 00:00</text>
<rect x="1157" y="803" width="1" height="3" fill="#000"/>
<text x="1157" y="815">2 May 16:00</text>
<rect x="1221" y="803" width="1" height="3" fill="#000"/>
<text x="1221" y="815">3 May 08:00</text>
<defs><pattern id="chk" width="2" height="2" patternUnits="userSpaceOnUse"><rect width="2" height="2" fill="#f4f4f4"/><rect width="1" height="1" fill="#e6e6e6"/><rect x="1" y="1" width="1" height="1" fill="#e6e6e6"/></pattern>
<linearGradient id="gold" x1="0" y1="0" x2="1" y2="1"><stop offset="0" stop-color="#fff0a0"/><stop offset="0.5" stop-color="#e8b820"/><stop offset="1" stop-color="#c08818"/></linearGradient>
<linearGradient id="badge" x1="0" y1="0" x2="0" y2="1"><stop offset="0" stop-color="#f06040"/><stop offset="1" stop-color="#d02010"/></linearGradient>
</defs>
<rect x="0" y="0" width="1655" height="21" fill="#f0f0f0"/>
<text x="-3.5" y="11.8" style="font-size:11.6px;letter-spacing:0.2px;fill:#000;stroke:#000;stroke-width:0.15px">新订单</text>
<text x="149.5" y="11.8" style="font-size:11.4px;letter-spacing:0;fill:#000;stroke:#000;stroke-width:0.15px">自动交易</text>
<g shape-rendering="geometricPrecision"><polygon points="51,2.5 59.5,8.3 61,11.6 52.7,16.7 45.2,10.5" fill="url(#gold)" stroke="#a06a10" stroke-width="1"/><line x1="47" y1="10.5" x2="55" y2="15.5" stroke="#f8e8a0" stroke-width="1"/></g>
<g shape-rendering="geometricPrecision"><rect x="75.5" y="1.5" width="10.5" height="9.5" fill="#1a90f0" stroke="#1070d0" stroke-width="1"/><polyline points="76,2 79,4.5 79,10" fill="none" stroke="#ffffff" stroke-width="0.8"/><rect x="80.5" y="6" width="4.5" height="1.2" fill="#ffffff"/><path d="M74.5,16.5 Q72.5,13 76,12.5 Q77,9.5 80.5,10.5 Q83,8.5 85.5,11 Q89.5,11 88.5,15 Q88.5,16.5 86,16.5 Z" fill="#dce4ee" stroke="#4a6aa0" stroke-width="1"/></g>
<g shape-rendering="geometricPrecision"><circle cx="109" cy="9" r="7.3" fill="none" stroke="#6a90d8" stroke-width="1" stroke-dasharray="2 1"/><circle cx="109" cy="9" r="4.5" fill="none" stroke="#7aa0d8" stroke-width="1"/><path d="M109,9 L109,16.3 A7.3,7.3 0 0 0 116.3,9" fill="none" stroke="#40a040" stroke-width="1"/><circle cx="109" cy="9" r="1.8" fill="#2050c0"/><line x1="109.5" y1="9" x2="109.5" y2="16.5" stroke="#20a020" stroke-width="1.2"/></g>
<g shape-rendering="geometricPrecision"><polygon points="129,9 144,9 140,17 135,17" fill="#f0d040" stroke="#c89a20" stroke-width="0.8"/><ellipse cx="136" cy="6" rx="7.8" ry="2.6" fill="#60b0e8" stroke="#2a80b0" stroke-width="0.8"/><ellipse cx="136" cy="4" rx="3.5" ry="2.8" fill="#80c8f0" stroke="#2a80b0" stroke-width="0.8"/><circle cx="140.5" cy="12.8" r="4.2" fill="#e02010" stroke="#a01008" stroke-width="0.6"/><rect x="138.8" y="11.1" width="3.4" height="3.4" fill="#ffffff"/></g>
<rect x="204" y="1" width="1" height="18" fill="#a0a0a0"/>
<rect x="205" y="1" width="1" height="18" fill="#ffffff"/>
<rect x="208" y="1" width="3" height="1" fill="#8a8a8a"/>
<rect x="208" y="3" width="3" height="1" fill="#8a8a8a"/>
<rect x="208" y="5" width="3" height="1" fill="#8a8a8a"/>
<rect x="208" y="7" width="3" height="1" fill="#8a8a8a"/>
<rect x="208" y="9" width="3" height="1" fill="#8a8a8a"/>
<rect x="208" y="11" width="3" height="1" fill="#8a8a8a"/>
<rect x="208" y="13" width="3" height="1" fill="#8a8a8a"/>
<rect x="208" y="15" width="3" height="1" fill="#8a8a8a"/>
<rect x="208" y="17" width="3" height="1" fill="#8a8a8a"/>
<rect x="222" y="3" width="1" height="14" fill="#5a5a5a"/>
<polygon points="220.5,5 222.5,2.5 224.5,5" fill="#5a5a5a" shape-rendering="geometricPrecision"/>
<rect x="220" y="14" width="14" height="1" fill="#5a5a5a"/>
<polygon points="233,12.5 235.5,14.5 233,16.5" fill="#5a5a5a" shape-rendering="geometricPrecision"/>
<rect x="228" y="4" width="1" height="9" fill="#10a010"/>
<rect x="229" y="5" width="2" height="1" fill="#10a010"/>
<rect x="226" y="11" width="2" height="1" fill="#10a010"/>
<rect x="243" y="0" width="24" height="19" fill="url(#chk)"/>
<rect x="242" y="0" width="1" height="19" fill="#a0a0a0"/>
<rect x="250" y="3" width="1" height="14" fill="#5a5a5a"/>
<polygon points="248.5,5 250.5,2.5 252.5,5" fill="#5a5a5a" shape-rendering="geometricPrecision"/>
<rect x="248" y="14" width="14" height="1" fill="#5a5a5a"/>
<polygon points="261,12.5 263.5,14.5 261,16.5" fill="#5a5a5a" shape-rendering="geometricPrecision"/>
<rect x="256" y="1" width="1" height="12" fill="#108a10"/>
<rect x="254" y="3" width="5" height="8" fill="#108a10"/>
<rect x="255" y="4" width="3" height="6" fill="#30e030"/>
<rect x="278" y="3" width="1" height="14" fill="#5a5a5a"/>
<polygon points="276.5,5 278.5,2.5 280.5,5" fill="#5a5a5a" shape-rendering="geometricPrecision"/>
<rect x="276" y="14" width="14" height="1" fill="#5a5a5a"/>
<polygon points="289,12.5 291.5,14.5 289,16.5" fill="#5a5a5a" shape-rendering="geometricPrecision"/>
<g shape-rendering="geometricPrecision"><polyline points="277.5,11.5 283,6 289,10" fill="none" stroke="#30a030" stroke-width="1"/></g>
<rect x="299" y="1" width="1" height="18" fill="#a0a0a0"/>
<rect x="300" y="1" width="1" height="18" fill="#ffffff"/>
<g shape-rendering="geometricPrecision"><line x1="318" y1="11" x2="323" y2="15.5" stroke="#b08010" stroke-width="3.2"/><line x1="318" y1="11" x2="323" y2="15.5" stroke="#f0d050" stroke-width="1.8"/><circle cx="314" cy="6.8" r="5.2" fill="#e4f4fc" stroke="#3a7ac8" stroke-width="1"/><rect x="310.5" y="5.8" width="7" height="2" fill="#4a88b0"/><rect x="313" y="3.3" width="2" height="7" fill="#4a88b0"/></g>
<g shape-rendering="geometricPrecision"><line x1="346" y1="11" x2="351" y2="15.5" stroke="#b08010" stroke-width="3.2"/><line x1="346" y1="11" x2="351" y2="15.5" stroke="#f0d050" stroke-width="1.8"/><circle cx="342" cy="6.8" r="5.2" fill="#e4f4fc" stroke="#3a7ac8" stroke-width="1"/><rect x="338.5" y="5.8" width="7" height="2" fill="#4a88b0"/></g>
<rect x="364" y="1" width="8" height="8" fill="#28a028"/>
<rect x="365" y="4" width="6" height="4" fill="#ffffff"/>
<rect x="366" y="5" width="4" height="1" fill="#a8d8a8"/>
<rect x="365" y="2" width="1" height="1" fill="#d0f0d0"/>
<rect x="372" y="1" width="8" height="8" fill="#2050d0"/>
<rect x="373" y="4" width="6" height="4" fill="#ffffff"/>
<rect x="374" y="5" width="4" height="1" fill="#a8b8f0"/>
<rect x="373" y="2" width="1" height="1" fill="#d0d8ff"/>
<rect x="364" y="9" width="8" height="8" fill="#2050d0"/>
<rect x="365" y="12" width="6" height="4" fill="#ffffff"/>
<rect x="366" y="13" width="4" height="1" fill="#a8b8f0"/>
<rect x="365" y="10" width="1" height="1" fill="#d0d8ff"/>
<rect x="372" y="9" width="8" height="8" fill="#28a028"/>
<rect x="373" y="12" width="6" height="4" fill="#ffffff"/>
<rect x="374" y="13" width="4" height="1" fill="#a8d8a8"/>
<rect x="373" y="10" width="1" height="1" fill="#d0f0d0"/>
<rect x="389" y="1" width="1" height="18" fill="#a0a0a0"/>
<rect x="390" y="1" width="1" height="18" fill="#ffffff"/>
<rect x="395" y="0" width="25" height="19" fill="url(#chk)"/>
<rect x="394" y="0" width="1" height="19" fill="#a0a0a0"/>
<rect x="402" y="3" width="1" height="14" fill="#5a5a5a"/>
<polygon points="400.5,5 402.5,2.5 404.5,5" fill="#5a5a5a" shape-rendering="geometricPrecision"/>
<rect x="400" y="14" width="14" height="1" fill="#5a5a5a"/>
<polygon points="413,12.5 415.5,14.5 413,16.5" fill="#5a5a5a" shape-rendering="geometricPrecision"/>
<g shape-rendering="geometricPrecision"><polygon points="407.5,5 411.5,8.5 407.5,12" fill="#40e040" stroke="#10a010" stroke-width="1"/></g>
<rect x="423" y="0" width="25" height="19" fill="url(#chk)"/>
<rect x="422" y="0" width="1" height="19" fill="#a0a0a0"/>
<rect x="430" y="3" width="1" height="14" fill="#5a5a5a"/>
<polygon points="428.5,5 430.5,2.5 432.5,5" fill="#5a5a5a" shape-rendering="geometricPrecision"/>
<rect x="428" y="14" width="14" height="1" fill="#5a5a5a"/>
<polygon points="441,12.5 443.5,14.5 441,16.5" fill="#5a5a5a" shape-rendering="geometricPrecision"/>
<rect x="436" y="3" width="1" height="10" fill="#1a70a0"/>
<g shape-rendering="geometricPrecision"><polygon points="437.5,8.5 440.5,6 440,8 442.5,8 442.5,9 440,9 440.5,11" fill="#f06010" stroke="#a03000" stroke-width="0.5"/></g>
<rect x="451" y="1" width="1" height="18" fill="#a0a0a0"/>
<rect x="452" y="1" width="1" height="18" fill="#ffffff"/>
<g shape-rendering="geometricPrecision"><path d="M461.5,1.5 L469,1.5 L472.5,5 L472.5,14.5 L461.5,14.5 Z" fill="#ffffff" stroke="#8a8a8a" stroke-width="1"/><path d="M466,4 Q464,4 464.5,8 L464,12" fill="none" stroke="#404030" stroke-width="0.9"/><path d="M469,7.5 h4 v3.5 h3.5 v4 h-3.5 v3.5 h-4 v-3.5 h-3.5 v-4 h3.5 Z" fill="#10e010" stroke="#109010" stroke-width="0.9"/></g>
<polygon points="482.5,8 488.5,8 485.5,11" fill="#000" shape-rendering="geometricPrecision"/>
<g shape-rendering="geometricPrecision"><circle cx="507" cy="8.8" r="6.7" fill="#f8f8fc" stroke="#1a6ad0" stroke-width="2.2"/><polyline points="506.5,4.5 506.5,9 510,9.5" fill="none" stroke="#202020" stroke-width="1"/></g>
<polygon points="521.5,8 527.5,8 524.5,11" fill="#000" shape-rendering="geometricPrecision"/>
<g shape-rendering="geometricPrecision"><rect x="538.5" y="2.5" width="15" height="13" rx="1" fill="#ffffff" stroke="#3a78c0" stroke-width="1"/><rect x="539" y="3" width="14" height="2" fill="#5a9ad8"/><line x1="539" y1="10" x2="553" y2="10" stroke="#7aa0c8" stroke-width="1"/><polyline points="540,8.5 542,8.5 544,7 546,6.3 548,7.5 550,7.5 552,6.5" fill="none" stroke="#a02010" stroke-width="1"/><polyline points="541,13.5 543,12.5 545,13.5 547,12 549,11 551,13" fill="none" stroke="#10902a" stroke-width="1"/></g>
<polygon points="560.5,8 566.5,8 563.5,11" fill="#000" shape-rendering="geometricPrecision"/>
<rect x="572" y="0" width="1" height="21" fill="#a0a0a0"/>
<rect x="573" y="0" width="1" height="21" fill="#ffffff"/>
<rect x="576" y="1" width="3" height="1" fill="#8a8a8a"/>
<rect x="576" y="3" width="3" height="1" fill="#8a8a8a"/>
<rect x="576" y="5" width="3" height="1" fill="#8a8a8a"/>
<rect x="576" y="7" width="3" height="1" fill="#8a8a8a"/>
<rect x="576" y="9" width="3" height="1" fill="#8a8a8a"/>
<rect x="576" y="11" width="3" height="1" fill="#8a8a8a"/>
<rect x="576" y="13" width="3" height="1" fill="#8a8a8a"/>
<rect x="576" y="15" width="3" height="1" fill="#8a8a8a"/>
<rect x="576" y="17" width="3" height="1" fill="#8a8a8a"/>
<rect x="583" y="0" width="24" height="19" fill="url(#chk)"/>
<rect x="582" y="0" width="1" height="19" fill="#a0a0a0"/>
<g shape-rendering="geometricPrecision"><polygon points="590,2 590,13.5 592.5,11.3 594.8,15.8 596.5,15 594.3,10.5 597.8,10.3" fill="#4a4a4a"/></g>
<rect x="622" y="2" width="1" height="15" fill="#404040"/>
<rect x="615" y="9" width="15" height="1" fill="#404040"/>
<rect x="622" y="9" width="1" height="1" fill="#f0f0f0"/>
<rect x="639" y="0" width="1" height="19" fill="#a0a0a0"/>
<rect x="656" y="3" width="1" height="13" fill="#404040"/>
<rect x="679" y="9" width="12" height="1" fill="#404040"/>
<g shape-rendering="geometricPrecision"><line x1="707" y1="16" x2="719" y2="4" stroke="#404040" stroke-width="1"/></g>
<g shape-rendering="geometricPrecision"><line x1="733" y1="10.5" x2="741" y2="3" stroke="#404040" stroke-width="1"/><line x1="738" y1="15.5" x2="747" y2="7" stroke="#404040" stroke-width="1"/><line x1="735" y1="14" x2="736" y2="8" stroke="#404040" stroke-width="1"/><line x1="738" y1="12" x2="739" y2="6" stroke="#404040" stroke-width="1"/><line x1="741" y1="10" x2="742.5" y2="2" stroke="#404040" stroke-width="1.2"/></g>
<text x="744" y="18" style="font-size:7px;font-weight:bold;letter-spacing:0;fill:#404040">E</text>
<rect x="762" y="2" width="1" height="1" fill="#404040"/>
<rect x="764" y="2" width="1" height="1" fill="#404040"/>
<rect x="766" y="2" width="1" height="1" fill="#404040"/>
<rect x="768" y="2" width="1" height="1" fill="#404040"/>
<rect x="770" y="2" width="1" height="1" fill="#404040"/>
<rect x="772" y="2" width="1" height="1" fill="#404040"/>
<rect x="774" y="2" width="1" height="1" fill="#404040"/>
<rect x="762" y="5" width="1" height="1" fill="#404040"/>
<rect x="764" y="5" width="1" height="1" fill="#404040"/>
<rect x="766" y="5" width="1" height="1" fill="#404040"/>
<rect x="768" y="5" width="1" height="1" fill="#404040"/>
<rect x="770" y="5" width="1" height="1" fill="#404040"/>
<rect x="772" y="5" width="1" height="1" fill="#404040"/>
<rect x="774" y="5" width="1" height="1" fill="#404040"/>
<rect x="762" y="9" width="1" height="1" fill="#404040"/>
<rect x="764" y="9" width="1" height="1" fill="#404040"/>
<rect x="766" y="9" width="1" height="1" fill="#404040"/>
<rect x="768" y="9" width="1" height="1" fill="#404040"/>
<rect x="770" y="9" width="1" height="1" fill="#404040"/>
<rect x="772" y="9" width="1" height="1" fill="#404040"/>
<rect x="774" y="9" width="1" height="1" fill="#404040"/>
<rect x="762" y="13" width="1" height="1" fill="#404040"/>
<rect x="764" y="13" width="1" height="1" fill="#404040"/>
<rect x="766" y="13" width="1" height="1" fill="#404040"/>
<rect x="768" y="13" width="1" height="1" fill="#404040"/>
<rect x="770" y="13" width="1" height="1" fill="#404040"/>
<text x="771.5" y="18" style="font-size:7px;font-weight:bold;letter-spacing:0;fill:#404040">F</text>
<text x="792" y="14" style="font-size:12.5px;letter-spacing:0;fill:#4a4a4a;stroke:#4a4a4a">A</text>
<rect x="819" y="2" width="1" height="1" fill="#404040"/>
<rect x="819" y="15" width="1" height="1" fill="#404040"/>
<rect x="821" y="2" width="1" height="1" fill="#404040"/>
<rect x="821" y="15" width="1" height="1" fill="#404040"/>
<rect x="823" y="2" width="1" height="1" fill="#404040"/>
<rect x="823" y="15" width="1" height="1" fill="#404040"/>
<rect x="825" y="2" width="1" height="1" fill="#404040"/>
<rect x="825" y="15" width="1" height="1" fill="#404040"/>
<rect x="827" y="2" width="1" height="1" fill="#404040"/>
<rect x="827" y="15" width="1" height="1" fill="#404040"/>
<rect x="829" y="2" width="1" height="1" fill="#404040"/>
<rect x="829" y="15" width="1" height="1" fill="#404040"/>
<rect x="831" y="2" width="1" height="1" fill="#404040"/>
<rect x="831" y="15" width="1" height="1" fill="#404040"/>
<rect x="819" y="2" width="1" height="1" fill="#404040"/>
<rect x="831" y="2" width="1" height="1" fill="#404040"/>
<rect x="819" y="4" width="1" height="1" fill="#404040"/>
<rect x="831" y="4" width="1" height="1" fill="#404040"/>
<rect x="819" y="6" width="1" height="1" fill="#404040"/>
<rect x="831" y="6" width="1" height="1" fill="#404040"/>
<rect x="819" y="8" width="1" height="1" fill="#404040"/>
<rect x="831" y="8" width="1" height="1" fill="#404040"/>
<rect x="819" y="10" width="1" height="1" fill="#404040"/>
<rect x="831" y="10" width="1" height="1" fill="#404040"/>
<rect x="819" y="12" width="1" height="1" fill="#404040"/>
<rect x="831" y="12" width="1" height="1" fill="#404040"/>
<rect x="819" y="14" width="1" height="1" fill="#404040"/>
<rect x="831" y="14" width="1" height="1" fill="#404040"/>
<rect x="822" y="5" width="7" height="2" fill="#4a4a4a"/>
<rect x="824.5" y="5" width="2" height="9" fill="#4a4a4a"/>
<rect x="819" y="2" width="2" height="2" fill="#303030"/>
<g shape-rendering="geometricPrecision"><polygon points="846,6 849.5,3 853,6 849.5,8" fill="#404040"/><polyline points="849,8 852,11 858,5" fill="none" stroke="#404040" stroke-width="1.2"/><polygon points="853,13 856.5,10.5 860,13 856.5,16" fill="#404040"/></g>
<polygon points="866.5,8 872.5,8 869.5,11" fill="#000" shape-rendering="geometricPrecision"/>
<rect x="878" y="0" width="1" height="21" fill="#a0a0a0"/>
<rect x="879" y="0" width="1" height="21" fill="#ffffff"/>
<rect x="882" y="1" width="3" height="1" fill="#8a8a8a"/>
<rect x="882" y="3" width="3" height="1" fill="#8a8a8a"/>
<rect x="882" y="5" width="3" height="1" fill="#8a8a8a"/>
<rect x="882" y="7" width="3" height="1" fill="#8a8a8a"/>
<rect x="882" y="9" width="3" height="1" fill="#8a8a8a"/>
<rect x="882" y="11" width="3" height="1" fill="#8a8a8a"/>
<rect x="882" y="13" width="3" height="1" fill="#8a8a8a"/>
<rect x="882" y="15" width="3" height="1" fill="#8a8a8a"/>
<rect x="882" y="17" width="3" height="1" fill="#8a8a8a"/>
<rect x="1029" y="0" width="25" height="19" fill="url(#chk)"/>
<rect x="1028" y="0" width="1" height="19" fill="#a0a0a0"/>
<text x="893.5" y="14" style="font-size:10.5px;letter-spacing:-0.2px;fill:#3a3a3a">M1</text>
<text x="921.5" y="14" style="font-size:10.5px;letter-spacing:-0.2px;fill:#3a3a3a">M5</text>
<text x="947.5" y="14" style="font-size:10.5px;letter-spacing:-0.2px;fill:#3a3a3a">M15</text>
<text x="975.5" y="14" style="font-size:10.5px;letter-spacing:-0.2px;fill:#3a3a3a">M30</text>
<text x="1006.5" y="14" style="font-size:10.5px;letter-spacing:-0.2px;fill:#3a3a3a">H1</text>
<text x="1033" y="14" style="font-size:10.5px;letter-spacing:-0.2px;fill:#3a3a3a">H4</text>
<text x="1062" y="14" style="font-size:10.5px;letter-spacing:-0.2px;fill:#3a3a3a">D1</text>
<text x="1089.5" y="14" style="font-size:10.5px;letter-spacing:-0.2px;fill:#3a3a3a">W1</text>
<text x="1116.5" y="14" style="font-size:10.5px;letter-spacing:-0.2px;fill:#3a3a3a">MN</text>
<rect x="1138" y="0" width="1" height="21" fill="#b0b0b0"/>
<g shape-rendering="geometricPrecision"><line x1="1602.5" y1="14.3" x2="1606.5" y2="10.3" stroke="#2a60c8" stroke-width="2.2" stroke-linecap="round"/><circle cx="1609.5" cy="6.3" r="3.6" fill="#f4f4ff" stroke="#2a64d0" stroke-width="1.3"/></g>
<g shape-rendering="geometricPrecision"><ellipse cx="1632" cy="11" rx="5.5" ry="4.3" fill="#dcdce4" stroke="#a8a8a8" stroke-width="0.9"/><polygon points="1629,14.5 1629.5,17.5 1632,15" fill="#909090"/><circle cx="1640.5" cy="6.5" r="8" fill="url(#badge)"/></g>
<text x="1637" y="11" style="font-size:11px;letter-spacing:0;fill:#ffffff;font-family:'Liberation Serif',serif">1</text>
</svg></body></html>
